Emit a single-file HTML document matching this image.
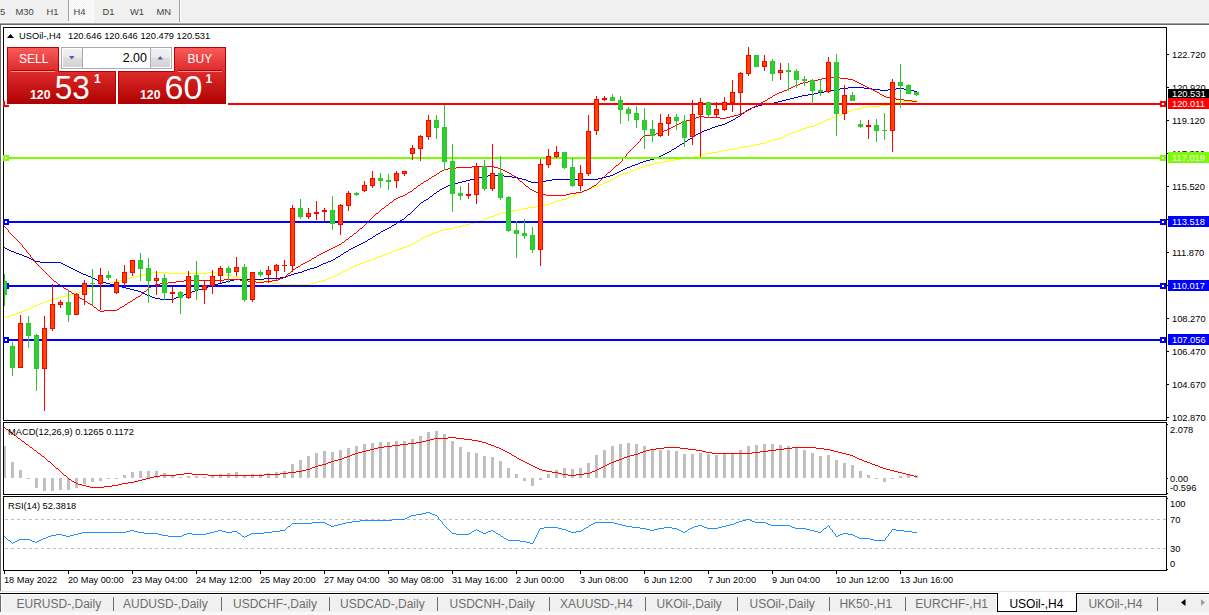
<!DOCTYPE html>
<html><head><meta charset="utf-8"><style>
html,body{margin:0;padding:0;}
body{width:1209px;height:615px;overflow:hidden;background:#f0f0f0;position:relative;}
svg{position:absolute;left:0;top:0;font-family:"Liberation Sans",sans-serif;}
rect{shape-rendering:crispEdges;}
polyline{shape-rendering:crispEdges;}
path{shape-rendering:crispEdges;}
</style></head><body>
<svg width="1209" height="615" viewBox="0 0 1209 615">
<rect x="0" y="0" width="1209" height="22" fill="#f0f0f0"/>
<rect x="0" y="22" width="1209" height="1" fill="#f8f8f8"/>
<rect x="0" y="23" width="1209" height="1" fill="#a0a0a0"/>
<rect x="0" y="24" width="1209" height="1" fill="#696969"/>
<defs><pattern id="dith" width="2" height="2" patternUnits="userSpaceOnUse"><rect width="2" height="2" fill="#f0f0f0"/><rect width="1" height="1" fill="#ffffff"/><rect x="1" y="1" width="1" height="1" fill="#ffffff"/></pattern><clipPath id="cmain"><rect x="4" y="28" width="1162" height="392"/></clipPath><clipPath id="cmacd"><rect x="4" y="423" width="1162" height="70"/></clipPath><clipPath id="crsi"><rect x="4" y="497" width="1162" height="73"/></clipPath></defs>
<rect x="69" y="0" width="24" height="21" fill="url(#dith)"/>
<rect x="68" y="0" width="1" height="21" fill="#a0a0a0"/>
<rect x="93" y="0" width="1" height="22" fill="#ffffff"/>
<rect x="68" y="21" width="26" height="1" fill="#ffffff"/>
<rect x="179" y="0" width="1" height="22" fill="#a0a0a0"/>
<rect x="180" y="0" width="1" height="22" fill="#ffffff"/>
<text x="0" y="15" font-size="9.4" fill="#454545">5</text>
<text x="15.5" y="15" font-size="9.4" fill="#454545">M30</text>
<text x="46.5" y="15" font-size="9.4" fill="#454545">H1</text>
<text x="73.5" y="15" font-size="9.4" fill="#454545">H4</text>
<text x="102.5" y="15" font-size="9.4" fill="#454545">D1</text>
<text x="130" y="15" font-size="9.4" fill="#454545">W1</text>
<text x="156.5" y="15" font-size="9.4" fill="#454545">MN</text>
<rect x="0" y="25" width="1209" height="566" fill="#ffffff"/>
<rect x="0" y="24" width="1" height="567" fill="#696969"/>
<rect x="3" y="27" width="1164" height="1" fill="#000"/>
<rect x="3" y="420" width="1164" height="1" fill="#000"/>
<rect x="3" y="27" width="1" height="394" fill="#000"/>
<rect x="1166" y="27" width="1" height="394" fill="#000"/>
<rect x="3" y="422" width="1164" height="1" fill="#000"/>
<rect x="3" y="494" width="1164" height="1" fill="#000"/>
<rect x="3" y="422" width="1" height="73" fill="#000"/>
<rect x="1166" y="422" width="1" height="73" fill="#000"/>
<rect x="3" y="496" width="1164" height="1" fill="#000"/>
<rect x="3" y="570" width="1164" height="1" fill="#000"/>
<rect x="3" y="496" width="1" height="75" fill="#000"/>
<rect x="1166" y="496" width="1" height="75" fill="#000"/>
<rect x="1167" y="54" width="2" height="1" fill="#000"/>
<rect x="1167" y="87" width="2" height="1" fill="#000"/>
<rect x="1167" y="120" width="2" height="1" fill="#000"/>
<rect x="1167" y="153" width="2" height="1" fill="#000"/>
<rect x="1167" y="186" width="2" height="1" fill="#000"/>
<rect x="1167" y="219" width="2" height="1" fill="#000"/>
<rect x="1167" y="252" width="2" height="1" fill="#000"/>
<rect x="1167" y="285" width="2" height="1" fill="#000"/>
<rect x="1167" y="318" width="2" height="1" fill="#000"/>
<rect x="1167" y="351" width="2" height="1" fill="#000"/>
<rect x="1167" y="384" width="2" height="1" fill="#000"/>
<rect x="1167" y="417" width="2" height="1" fill="#000"/>
<text x="1172" y="58" font-size="9.3" fill="#000">122.720</text>
<text x="1172" y="91" font-size="9.3" fill="#000">120.920</text>
<text x="1172" y="124" font-size="9.3" fill="#000">119.120</text>
<text x="1172" y="157" font-size="9.3" fill="#000">117.320</text>
<text x="1172" y="190" font-size="9.3" fill="#000">115.520</text>
<text x="1172" y="223" font-size="9.3" fill="#000">113.720</text>
<text x="1172" y="256" font-size="9.3" fill="#000">111.870</text>
<text x="1172" y="289" font-size="9.3" fill="#000">110.070</text>
<text x="1172" y="322" font-size="9.3" fill="#000">108.270</text>
<text x="1172" y="355" font-size="9.3" fill="#000">106.470</text>
<text x="1172" y="388" font-size="9.3" fill="#000">104.670</text>
<text x="1172" y="421" font-size="9.3" fill="#000">102.870</text>
<path d="M4 317h1v1h-1zM5 317h1v1h-1zM6 316h1v1h-1zM7 316h1v1h-1zM8 316h1v1h-1zM9 316h1v1h-1zM10 315h1v1h-1zM11 315h1v1h-1zM12 315h1v1h-1zM13 315h1v1h-1zM14 314h1v1h-1zM15 314h1v1h-1zM16 313h1v1h-1zM17 313h1v1h-1zM18 313h1v1h-1zM19 312h1v1h-1zM20 312h1v1h-1zM21 312h1v1h-1zM22 311h1v1h-1zM23 311h1v1h-1zM24 310h1v1h-1zM25 310h1v1h-1zM26 310h1v1h-1zM27 309h1v1h-1zM28 309h1v1h-1zM29 308h1v1h-1zM30 308h1v1h-1zM31 307h1v1h-1zM32 307h1v1h-1zM33 306h1v1h-1zM34 306h1v1h-1zM35 305h1v1h-1zM36 305h1v1h-1zM37 305h1v1h-1zM38 304h1v1h-1zM39 304h1v1h-1zM40 303h1v1h-1zM41 303h1v1h-1zM42 303h1v1h-1zM43 302h1v1h-1zM44 302h1v1h-1zM45 302h1v1h-1zM46 301h1v1h-1zM47 301h1v1h-1zM48 300h1v1h-1zM49 300h1v1h-1zM50 300h1v1h-1zM51 299h1v1h-1zM52 299h1v1h-1zM53 299h1v1h-1zM54 298h1v1h-1zM55 298h1v1h-1zM56 298h1v1h-1zM57 298h1v1h-1zM58 297h1v1h-1zM59 297h1v1h-1zM60 297h1v1h-1zM61 297h1v1h-1zM62 296h1v1h-1zM63 296h1v1h-1zM64 296h1v1h-1zM65 296h1v1h-1zM66 295h1v1h-1zM67 295h1v1h-1zM68 295h1v1h-1zM69 295h1v1h-1zM70 294h1v1h-1zM71 294h1v1h-1zM72 294h1v1h-1zM73 294h1v1h-1zM74 293h1v1h-1zM75 293h1v1h-1zM76 293h1v1h-1zM77 293h1v1h-1zM78 292h1v1h-1zM79 292h1v1h-1zM80 291h1v1h-1zM81 291h1v1h-1zM82 291h1v1h-1zM83 290h1v1h-1zM84 290h1v1h-1zM85 290h1v1h-1zM86 289h1v1h-1zM87 289h1v1h-1zM88 288h1v1h-1zM89 288h1v1h-1zM90 288h1v1h-1zM91 287h1v1h-1zM92 287h1v1h-1zM93 287h1v1h-1zM94 286h1v1h-1zM95 286h1v1h-1zM96 286h1v1h-1zM97 286h1v1h-1zM98 285h1v1h-1zM99 285h1v1h-1zM100 285h1v1h-1zM101 285h1v1h-1zM102 284h1v1h-1zM103 284h1v1h-1zM104 284h1v1h-1zM105 284h1v1h-1zM106 283h1v1h-1zM107 283h1v1h-1zM108 283h1v1h-1zM109 283h1v1h-1zM110 282h1v1h-1zM111 282h1v1h-1zM112 282h1v1h-1zM113 282h1v1h-1zM114 281h1v1h-1zM115 281h1v1h-1zM116 281h1v1h-1zM117 281h1v1h-1zM118 280h1v1h-1zM119 280h1v1h-1zM120 280h1v1h-1zM121 280h1v1h-1zM122 279h1v1h-1zM123 279h1v1h-1zM124 279h1v1h-1zM125 279h1v1h-1zM126 278h1v1h-1zM127 278h1v1h-1zM128 278h1v1h-1zM129 278h1v1h-1zM130 277h1v1h-1zM131 277h1v1h-1zM132 277h1v1h-1zM133 277h1v1h-1zM134 276h1v1h-1zM135 276h1v1h-1zM136 276h1v1h-1zM137 276h1v1h-1zM138 275h1v1h-1zM139 275h1v1h-1zM140 275h1v1h-1zM141 275h1v1h-1zM142 274h1v1h-1zM143 274h1v1h-1zM144 274h1v1h-1zM145 274h1v1h-1zM146 273h1v1h-1zM147 273h1v1h-1zM148 273h1v1h-1zM149 273h1v1h-1zM150 273h1v1h-1zM151 273h1v1h-1zM152 272h1v1h-1zM153 272h1v1h-1zM154 272h1v1h-1zM155 272h1v1h-1zM156 272h1v1h-1zM157 272h1v1h-1zM158 272h1v1h-1zM159 272h1v1h-1zM160 272h1v1h-1zM161 272h1v1h-1zM162 272h1v1h-1zM163 272h1v1h-1zM164 272h1v1h-1zM165 272h1v1h-1zM166 272h1v1h-1zM167 272h1v1h-1zM168 273h1v1h-1zM169 273h1v1h-1zM170 273h1v1h-1zM171 273h1v1h-1zM172 273h1v1h-1zM173 273h1v1h-1zM174 273h1v1h-1zM175 273h1v1h-1zM176 273h1v1h-1zM177 273h1v1h-1zM178 273h1v1h-1zM179 273h1v1h-1zM180 273h1v1h-1zM181 273h1v1h-1zM182 273h1v1h-1zM183 273h1v1h-1zM184 273h1v1h-1zM185 273h1v1h-1zM186 273h1v1h-1zM187 273h1v1h-1zM188 273h1v1h-1zM189 273h1v1h-1zM190 273h1v1h-1zM191 273h1v1h-1zM192 273h1v1h-1zM193 273h1v1h-1zM194 273h1v1h-1zM195 273h1v1h-1zM196 273h1v1h-1zM197 273h1v1h-1zM198 273h1v1h-1zM199 273h1v1h-1zM200 273h1v1h-1zM201 273h1v1h-1zM202 273h1v1h-1zM203 273h1v1h-1zM204 273h1v1h-1zM205 273h1v1h-1zM206 273h1v1h-1zM207 273h1v1h-1zM208 272h1v1h-1zM209 272h1v1h-1zM210 272h1v1h-1zM211 272h1v1h-1zM212 272h1v1h-1zM213 272h1v1h-1zM214 272h1v1h-1zM215 272h1v1h-1zM216 273h1v1h-1zM217 273h1v1h-1zM218 273h1v1h-1zM219 273h1v1h-1zM220 273h1v1h-1zM221 273h1v1h-1zM222 274h1v1h-1zM223 274h1v1h-1zM224 274h1v1h-1zM225 274h1v1h-1zM226 275h1v1h-1zM227 275h1v1h-1zM228 275h1v1h-1zM229 275h1v1h-1zM230 275h1v1h-1zM231 275h1v1h-1zM232 276h1v1h-1zM233 276h1v1h-1zM234 276h1v1h-1zM235 276h1v1h-1zM236 276h1v1h-1zM237 276h1v1h-1zM238 277h1v1h-1zM239 277h1v1h-1zM240 277h1v1h-1zM241 277h1v1h-1zM242 278h1v1h-1zM243 278h1v1h-1zM244 278h1v1h-1zM245 278h1v1h-1zM246 278h1v1h-1zM247 278h1v1h-1zM248 278h1v1h-1zM249 278h1v1h-1zM250 278h1v1h-1zM251 278h1v1h-1zM252 278h1v1h-1zM253 278h1v1h-1zM254 279h1v1h-1zM255 279h1v1h-1zM256 279h1v1h-1zM257 279h1v1h-1zM258 280h1v1h-1zM259 280h1v1h-1zM260 280h1v1h-1zM261 280h1v1h-1zM262 281h1v1h-1zM263 281h1v1h-1zM264 281h1v1h-1zM265 281h1v1h-1zM266 282h1v1h-1zM267 282h1v1h-1zM268 282h1v1h-1zM269 282h1v1h-1zM270 282h1v1h-1zM271 282h1v1h-1zM272 283h1v1h-1zM273 283h1v1h-1zM274 283h1v1h-1zM275 283h1v1h-1zM276 283h1v1h-1zM277 283h1v1h-1zM278 283h1v1h-1zM279 283h1v1h-1zM280 284h1v1h-1zM281 284h1v1h-1zM282 284h1v1h-1zM283 284h1v1h-1zM284 284h1v1h-1zM285 284h1v1h-1zM286 284h1v1h-1zM287 284h1v1h-1zM288 284h1v1h-1zM289 284h1v1h-1zM290 284h1v1h-1zM291 284h1v1h-1zM292 284h1v1h-1zM293 284h1v1h-1zM294 284h1v1h-1zM295 284h1v1h-1zM296 284h1v1h-1zM297 284h1v1h-1zM298 284h1v1h-1zM299 284h1v1h-1zM300 284h1v1h-1zM301 284h1v1h-1zM302 284h1v1h-1zM303 284h1v1h-1zM304 284h1v1h-1zM305 284h1v1h-1zM306 284h1v1h-1zM307 284h1v1h-1zM308 284h1v1h-1zM309 284h1v1h-1zM310 283h1v1h-1zM311 283h1v1h-1zM312 283h1v1h-1zM313 283h1v1h-1zM314 282h1v1h-1zM315 282h1v1h-1zM316 282h1v1h-1zM317 282h1v1h-1zM318 281h1v1h-1zM319 281h1v1h-1zM320 281h1v1h-1zM321 281h1v1h-1zM322 280h1v1h-1zM323 280h1v1h-1zM324 280h1v1h-1zM325 280h1v1h-1zM326 279h1v1h-1zM327 279h1v1h-1zM328 278h1v1h-1zM329 278h1v1h-1zM330 278h1v1h-1zM331 277h1v1h-1zM332 277h1v1h-1zM333 276h1v1h-1zM334 276h1v1h-1zM335 275h1v1h-1zM336 275h1v1h-1zM337 274h1v1h-1zM338 274h1v1h-1zM339 273h1v1h-1zM340 273h1v1h-1zM341 272h1v1h-1zM342 272h1v1h-1zM343 271h1v1h-1zM344 271h1v1h-1zM345 270h1v1h-1zM346 270h1v1h-1zM347 269h1v1h-1zM348 269h1v1h-1zM349 268h1v1h-1zM350 268h1v1h-1zM351 267h1v1h-1zM352 267h1v1h-1zM353 266h1v1h-1zM354 266h1v1h-1zM355 265h1v1h-1zM356 265h1v1h-1zM357 265h1v1h-1zM358 264h1v1h-1zM359 264h1v1h-1zM360 263h1v1h-1zM361 263h1v1h-1zM362 263h1v1h-1zM363 262h1v1h-1zM364 262h1v1h-1zM365 262h1v1h-1zM366 261h1v1h-1zM367 261h1v1h-1zM368 260h1v1h-1zM369 260h1v1h-1zM370 260h1v1h-1zM371 259h1v1h-1zM372 259h1v1h-1zM373 259h1v1h-1zM374 258h1v1h-1zM375 258h1v1h-1zM376 257h1v1h-1zM377 257h1v1h-1zM378 257h1v1h-1zM379 256h1v1h-1zM380 256h1v1h-1zM381 256h1v1h-1zM382 255h1v1h-1zM383 255h1v1h-1zM384 254h1v1h-1zM385 254h1v1h-1zM386 254h1v1h-1zM387 253h1v1h-1zM388 253h1v1h-1zM389 253h1v1h-1zM390 252h1v1h-1zM391 252h1v1h-1zM392 251h1v1h-1zM393 251h1v1h-1zM394 251h1v1h-1zM395 250h1v1h-1zM396 250h1v1h-1zM397 250h1v1h-1zM398 249h1v1h-1zM399 249h1v1h-1zM400 248h1v1h-1zM401 248h1v1h-1zM402 248h1v1h-1zM403 247h1v1h-1zM404 247h1v1h-1zM405 247h1v1h-1zM406 246h1v1h-1zM407 246h1v1h-1zM408 245h1v1h-1zM409 245h1v1h-1zM410 245h1v1h-1zM411 244h1v1h-1zM412 244h1v1h-1zM413 243h1v1h-1zM414 243h1v1h-1zM415 242h1v1h-1zM416 241h1v1h-1zM417 241h1v1h-1zM418 240h1v1h-1zM419 240h1v1h-1zM420 239h1v1h-1zM421 238h1v1h-1zM422 238h1v1h-1zM423 237h1v1h-1zM424 237h1v1h-1zM425 236h1v1h-1zM426 236h1v1h-1zM427 235h1v1h-1zM428 235h1v1h-1zM429 235h1v1h-1zM430 234h1v1h-1zM431 234h1v1h-1zM432 233h1v1h-1zM433 233h1v1h-1zM434 233h1v1h-1zM435 232h1v1h-1zM436 232h1v1h-1zM437 232h1v1h-1zM438 231h1v1h-1zM439 231h1v1h-1zM440 230h1v1h-1zM441 230h1v1h-1zM442 230h1v1h-1zM443 229h1v1h-1zM444 229h1v1h-1zM445 229h1v1h-1zM446 229h1v1h-1zM447 229h1v1h-1zM448 228h1v1h-1zM449 228h1v1h-1zM450 228h1v1h-1zM451 228h1v1h-1zM452 228h1v1h-1zM453 228h1v1h-1zM454 227h1v1h-1zM455 227h1v1h-1zM456 227h1v1h-1zM457 227h1v1h-1zM458 226h1v1h-1zM459 226h1v1h-1zM460 226h1v1h-1zM461 226h1v1h-1zM462 225h1v1h-1zM463 225h1v1h-1zM464 225h1v1h-1zM465 225h1v1h-1zM466 224h1v1h-1zM467 224h1v1h-1zM468 224h1v1h-1zM469 224h1v1h-1zM470 223h1v1h-1zM471 223h1v1h-1zM472 223h1v1h-1zM473 223h1v1h-1zM474 222h1v1h-1zM475 222h1v1h-1zM476 222h1v1h-1zM477 222h1v1h-1zM478 221h1v1h-1zM479 221h1v1h-1zM480 220h1v1h-1zM481 220h1v1h-1zM482 220h1v1h-1zM483 219h1v1h-1zM484 219h1v1h-1zM485 219h1v1h-1zM486 218h1v1h-1zM487 218h1v1h-1zM488 217h1v1h-1zM489 217h1v1h-1zM490 217h1v1h-1zM491 216h1v1h-1zM492 216h1v1h-1zM493 216h1v1h-1zM494 215h1v1h-1zM495 215h1v1h-1zM496 214h1v1h-1zM497 214h1v1h-1zM498 214h1v1h-1zM499 213h1v1h-1zM500 213h1v1h-1zM501 213h1v1h-1zM502 212h1v1h-1zM503 212h1v1h-1zM504 212h1v1h-1zM505 212h1v1h-1zM506 211h1v1h-1zM507 211h1v1h-1zM508 211h1v1h-1zM509 211h1v1h-1zM510 211h1v1h-1zM511 211h1v1h-1zM512 210h1v1h-1zM513 210h1v1h-1zM514 210h1v1h-1zM515 210h1v1h-1zM516 210h1v1h-1zM517 210h1v1h-1zM518 209h1v1h-1zM519 209h1v1h-1zM520 209h1v1h-1zM521 209h1v1h-1zM522 208h1v1h-1zM523 208h1v1h-1zM524 208h1v1h-1zM525 208h1v1h-1zM526 208h1v1h-1zM527 208h1v1h-1zM528 207h1v1h-1zM529 207h1v1h-1zM530 207h1v1h-1zM531 207h1v1h-1zM532 207h1v1h-1zM533 207h1v1h-1zM534 207h1v1h-1zM535 207h1v1h-1zM536 206h1v1h-1zM537 206h1v1h-1zM538 206h1v1h-1zM539 206h1v1h-1zM540 206h1v1h-1zM541 206h1v1h-1zM542 205h1v1h-1zM543 205h1v1h-1zM544 205h1v1h-1zM545 205h1v1h-1zM546 204h1v1h-1zM547 204h1v1h-1zM548 204h1v1h-1zM549 204h1v1h-1zM550 203h1v1h-1zM551 203h1v1h-1zM552 202h1v1h-1zM553 202h1v1h-1zM554 202h1v1h-1zM555 201h1v1h-1zM556 201h1v1h-1zM557 201h1v1h-1zM558 200h1v1h-1zM559 200h1v1h-1zM560 200h1v1h-1zM561 200h1v1h-1zM562 199h1v1h-1zM563 199h1v1h-1zM564 199h1v1h-1zM565 199h1v1h-1zM566 198h1v1h-1zM567 198h1v1h-1zM568 197h1v1h-1zM569 197h1v1h-1zM570 197h1v1h-1zM571 196h1v1h-1zM572 196h1v1h-1zM573 195h1v1h-1zM574 195h1v1h-1zM575 194h1v1h-1zM576 194h1v1h-1zM577 193h1v1h-1zM578 193h1v1h-1zM579 192h1v1h-1zM580 192h1v1h-1zM581 192h1v1h-1zM582 191h1v1h-1zM583 191h1v1h-1zM584 190h1v1h-1zM585 190h1v1h-1zM586 190h1v1h-1zM587 189h1v1h-1zM588 189h1v1h-1zM589 189h1v1h-1zM590 188h1v1h-1zM591 188h1v1h-1zM592 187h1v1h-1zM593 187h1v1h-1zM594 187h1v1h-1zM595 186h1v1h-1zM596 186h1v1h-1zM597 186h1v1h-1zM598 185h1v1h-1zM599 185h1v1h-1zM600 184h1v1h-1zM601 184h1v1h-1zM602 184h1v1h-1zM603 183h1v1h-1zM604 183h1v1h-1zM605 182h1v1h-1zM606 182h1v1h-1zM607 181h1v1h-1zM608 181h1v1h-1zM609 180h1v1h-1zM610 180h1v1h-1zM611 179h1v1h-1zM612 179h1v1h-1zM613 178h1v1h-1zM614 178h1v1h-1zM615 177h1v1h-1zM616 176h1v1h-1zM617 176h1v1h-1zM618 175h1v1h-1zM619 175h1v1h-1zM620 174h1v1h-1zM621 174h1v1h-1zM622 173h1v1h-1zM623 173h1v1h-1zM624 173h1v1h-1zM625 173h1v1h-1zM626 172h1v1h-1zM627 172h1v1h-1zM628 172h1v1h-1zM629 172h1v1h-1zM630 171h1v1h-1zM631 171h1v1h-1zM632 170h1v1h-1zM633 170h1v1h-1zM634 170h1v1h-1zM635 169h1v1h-1zM636 169h1v1h-1zM637 169h1v1h-1zM638 168h1v1h-1zM639 168h1v1h-1zM640 167h1v1h-1zM641 167h1v1h-1zM642 167h1v1h-1zM643 166h1v1h-1zM644 166h1v1h-1zM645 166h1v1h-1zM646 165h1v1h-1zM647 165h1v1h-1zM648 165h1v1h-1zM649 165h1v1h-1zM650 164h1v1h-1zM651 164h1v1h-1zM652 164h1v1h-1zM653 164h1v1h-1zM654 163h1v1h-1zM655 163h1v1h-1zM656 163h1v1h-1zM657 163h1v1h-1zM658 162h1v1h-1zM659 162h1v1h-1zM660 162h1v1h-1zM661 162h1v1h-1zM662 162h1v1h-1zM663 162h1v1h-1zM664 161h1v1h-1zM665 161h1v1h-1zM666 161h1v1h-1zM667 161h1v1h-1zM668 161h1v1h-1zM669 161h1v1h-1zM670 160h1v1h-1zM671 160h1v1h-1zM672 160h1v1h-1zM673 160h1v1h-1zM674 159h1v1h-1zM675 159h1v1h-1zM676 159h1v1h-1zM677 159h1v1h-1zM678 159h1v1h-1zM679 159h1v1h-1zM680 158h1v1h-1zM681 158h1v1h-1zM682 158h1v1h-1zM683 158h1v1h-1zM684 158h1v1h-1zM685 158h1v1h-1zM686 158h1v1h-1zM687 158h1v1h-1zM688 157h1v1h-1zM689 157h1v1h-1zM690 157h1v1h-1zM691 157h1v1h-1zM692 157h1v1h-1zM693 157h1v1h-1zM694 156h1v1h-1zM695 156h1v1h-1zM696 156h1v1h-1zM697 156h1v1h-1zM698 155h1v1h-1zM699 155h1v1h-1zM700 155h1v1h-1zM701 155h1v1h-1zM702 154h1v1h-1zM703 154h1v1h-1zM704 154h1v1h-1zM705 154h1v1h-1zM706 153h1v1h-1zM707 153h1v1h-1zM708 153h1v1h-1zM709 153h1v1h-1zM710 153h1v1h-1zM711 153h1v1h-1zM712 152h1v1h-1zM713 152h1v1h-1zM714 152h1v1h-1zM715 152h1v1h-1zM716 152h1v1h-1zM717 152h1v1h-1zM718 151h1v1h-1zM719 151h1v1h-1zM720 151h1v1h-1zM721 151h1v1h-1zM722 150h1v1h-1zM723 150h1v1h-1zM724 150h1v1h-1zM725 150h1v1h-1zM726 150h1v1h-1zM727 150h1v1h-1zM728 149h1v1h-1zM729 149h1v1h-1zM730 149h1v1h-1zM731 149h1v1h-1zM732 149h1v1h-1zM733 149h1v1h-1zM734 148h1v1h-1zM735 148h1v1h-1zM736 148h1v1h-1zM737 148h1v1h-1zM738 147h1v1h-1zM739 147h1v1h-1zM740 147h1v1h-1zM741 147h1v1h-1zM742 147h1v1h-1zM743 147h1v1h-1zM744 146h1v1h-1zM745 146h1v1h-1zM746 146h1v1h-1zM747 146h1v1h-1zM748 146h1v1h-1zM749 146h1v1h-1zM750 145h1v1h-1zM751 145h1v1h-1zM752 145h1v1h-1zM753 145h1v1h-1zM754 144h1v1h-1zM755 144h1v1h-1zM756 144h1v1h-1zM757 144h1v1h-1zM758 144h1v1h-1zM759 144h1v1h-1zM760 143h1v1h-1zM761 143h1v1h-1zM762 143h1v1h-1zM763 143h1v1h-1zM764 143h1v1h-1zM765 143h1v1h-1zM766 142h1v1h-1zM767 142h1v1h-1zM768 141h1v1h-1zM769 141h1v1h-1zM770 141h1v1h-1zM771 140h1v1h-1zM772 140h1v1h-1zM773 140h1v1h-1zM774 139h1v1h-1zM775 139h1v1h-1zM776 139h1v1h-1zM777 139h1v1h-1zM778 138h1v1h-1zM779 138h1v1h-1zM780 138h1v1h-1zM781 137h1v1h-1zM782 137h1v1h-1zM783 136h1v1h-1zM784 136h1v1h-1zM785 135h1v1h-1zM786 135h1v1h-1zM787 134h1v1h-1zM788 134h1v1h-1zM789 134h1v1h-1zM790 133h1v1h-1zM791 133h1v1h-1zM792 132h1v1h-1zM793 132h1v1h-1zM794 132h1v1h-1zM795 131h1v1h-1zM796 131h1v1h-1zM797 131h1v1h-1zM798 130h1v1h-1zM799 130h1v1h-1zM800 129h1v1h-1zM801 129h1v1h-1zM802 129h1v1h-1zM803 128h1v1h-1zM804 128h1v1h-1zM805 128h1v1h-1zM806 127h1v1h-1zM807 127h1v1h-1zM808 127h1v1h-1zM809 127h1v1h-1zM810 126h1v1h-1zM811 126h1v1h-1zM812 126h1v1h-1zM813 126h1v1h-1zM814 125h1v1h-1zM815 125h1v1h-1zM816 124h1v1h-1zM817 124h1v1h-1zM818 124h1v1h-1zM819 123h1v1h-1zM820 123h1v1h-1zM821 122h1v1h-1zM822 122h1v1h-1zM823 121h1v1h-1zM824 121h1v1h-1zM825 120h1v1h-1zM826 120h1v1h-1zM827 119h1v1h-1zM828 119h1v1h-1zM829 119h1v1h-1zM830 118h1v1h-1zM831 118h1v1h-1zM832 117h1v1h-1zM833 117h1v1h-1zM834 117h1v1h-1zM835 116h1v1h-1zM836 116h1v1h-1zM837 116h1v1h-1zM838 115h1v1h-1zM839 115h1v1h-1zM840 114h1v1h-1zM841 114h1v1h-1zM842 114h1v1h-1zM843 113h1v1h-1zM844 113h1v1h-1zM845 113h1v1h-1zM846 112h1v1h-1zM847 112h1v1h-1zM848 111h1v1h-1zM849 111h1v1h-1zM850 111h1v1h-1zM851 110h1v1h-1zM852 110h1v1h-1zM853 110h1v1h-1zM854 109h1v1h-1zM855 109h1v1h-1zM856 109h1v1h-1zM857 109h1v1h-1zM858 108h1v1h-1zM859 108h1v1h-1zM860 108h1v1h-1zM861 108h1v1h-1zM862 107h1v1h-1zM863 107h1v1h-1zM864 107h1v1h-1zM865 107h1v1h-1zM866 106h1v1h-1zM867 106h1v1h-1zM868 106h1v1h-1zM869 106h1v1h-1zM870 106h1v1h-1zM871 106h1v1h-1zM872 106h1v1h-1zM873 106h1v1h-1zM874 106h1v1h-1zM875 106h1v1h-1zM876 106h1v1h-1zM877 106h1v1h-1zM878 106h1v1h-1zM879 106h1v1h-1zM880 105h1v1h-1zM881 105h1v1h-1zM882 105h1v1h-1zM883 105h1v1h-1zM884 105h1v1h-1zM885 105h1v1h-1zM886 105h1v1h-1zM887 105h1v1h-1zM888 104h1v1h-1zM889 104h1v1h-1zM890 104h1v1h-1zM891 104h1v1h-1zM892 104h1v1h-1zM893 104h1v1h-1zM894 103h1v1h-1zM895 103h1v1h-1zM896 102h1v1h-1zM897 102h1v1h-1zM898 102h1v1h-1zM899 101h1v1h-1zM900 101h1v1h-1zM901 101h1v1h-1zM902 101h1v1h-1zM903 101h1v1h-1zM904 101h1v1h-1zM905 101h1v1h-1zM906 101h1v1h-1zM907 101h1v1h-1zM908 101h1v1h-1zM909 101h1v1h-1zM910 101h1v1h-1zM911 101h1v1h-1zM912 100h1v1h-1zM913 100h1v1h-1zM914 100h1v1h-1zM915 100h1v1h-1zM916 100h1v1h-1z" fill="#ffff00"/>
<path d="M4 247h1v1h-1zM5 248h1v1h-1zM6 248h1v1h-1zM7 249h1v1h-1zM8 249h1v1h-1zM9 250h1v1h-1zM10 250h1v1h-1zM11 251h1v1h-1zM12 251h1v1h-1zM13 251h1v1h-1zM14 252h1v1h-1zM15 252h1v1h-1zM16 253h1v1h-1zM17 253h1v1h-1zM18 253h1v1h-1zM19 254h1v1h-1zM20 254h1v1h-1zM21 254h1v1h-1zM22 255h1v1h-1zM23 255h1v1h-1zM24 256h1v1h-1zM25 256h1v1h-1zM26 256h1v1h-1zM27 257h1v1h-1zM28 257h1v1h-1zM29 258h1v1h-1zM30 258h1v1h-1zM31 259h1v1h-1zM32 259h1v1h-1zM33 260h1v1h-1zM34 260h1v1h-1zM35 261h1v1h-1zM36 261h1v1h-1zM37 261h1v1h-1zM38 261h1v1h-1zM39 261h1v1h-1zM40 262h1v1h-1zM41 262h1v1h-1zM42 262h1v1h-1zM43 262h1v1h-1zM44 262h1v1h-1zM45 262h1v1h-1zM46 262h1v1h-1zM47 262h1v1h-1zM48 262h1v1h-1zM49 262h1v1h-1zM50 262h1v1h-1zM51 262h1v1h-1zM52 262h1v1h-1zM53 262h1v1h-1zM54 262h1v1h-1zM55 262h1v1h-1zM56 262h1v1h-1zM57 262h1v1h-1zM58 262h1v1h-1zM59 262h1v1h-1zM60 262h1v1h-1zM61 263h1v1h-1zM62 263h1v1h-1zM63 264h1v1h-1zM64 264h1v1h-1zM65 265h1v1h-1zM66 265h1v1h-1zM67 266h1v1h-1zM68 266h1v1h-1zM69 267h1v1h-1zM70 267h1v1h-1zM71 268h1v1h-1zM72 268h1v1h-1zM73 269h1v1h-1zM74 269h1v1h-1zM75 270h1v1h-1zM76 270h1v1h-1zM77 271h1v1h-1zM78 271h1v1h-1zM79 272h1v1h-1zM80 272h1v1h-1zM81 273h1v1h-1zM82 273h1v1h-1zM83 274h1v1h-1zM84 274h1v1h-1zM85 274h1v1h-1zM86 275h1v1h-1zM87 275h1v1h-1zM88 276h1v1h-1zM89 276h1v1h-1zM90 276h1v1h-1zM91 277h1v1h-1zM92 277h1v1h-1zM93 278h1v1h-1zM94 278h1v1h-1zM95 279h1v1h-1zM96 279h1v1h-1zM97 280h1v1h-1zM98 280h1v1h-1zM99 281h1v1h-1zM100 281h1v1h-1zM101 281h1v1h-1zM102 282h1v1h-1zM103 282h1v1h-1zM104 282h1v1h-1zM105 282h1v1h-1zM106 283h1v1h-1zM107 283h1v1h-1zM108 283h1v1h-1zM109 283h1v1h-1zM110 284h1v1h-1zM111 284h1v1h-1zM112 284h1v1h-1zM113 284h1v1h-1zM114 285h1v1h-1zM115 285h1v1h-1zM116 285h1v1h-1zM117 285h1v1h-1zM118 286h1v1h-1zM119 286h1v1h-1zM120 286h1v1h-1zM121 286h1v1h-1zM122 287h1v1h-1zM123 287h1v1h-1zM124 287h1v1h-1zM125 287h1v1h-1zM126 288h1v1h-1zM127 288h1v1h-1zM128 288h1v1h-1zM129 288h1v1h-1zM130 289h1v1h-1zM131 289h1v1h-1zM132 289h1v1h-1zM133 289h1v1h-1zM134 290h1v1h-1zM135 290h1v1h-1zM136 290h1v1h-1zM137 290h1v1h-1zM138 291h1v1h-1zM139 291h1v1h-1zM140 291h1v1h-1zM141 292h1v1h-1zM142 292h1v1h-1zM143 293h1v1h-1zM144 293h1v1h-1zM145 294h1v1h-1zM146 294h1v1h-1zM147 295h1v1h-1zM148 295h1v1h-1zM149 295h1v1h-1zM150 296h1v1h-1zM151 296h1v1h-1zM152 297h1v1h-1zM153 297h1v1h-1zM154 297h1v1h-1zM155 298h1v1h-1zM156 298h1v1h-1zM157 298h1v1h-1zM158 298h1v1h-1zM159 298h1v1h-1zM160 299h1v1h-1zM161 299h1v1h-1zM162 299h1v1h-1zM163 299h1v1h-1zM164 299h1v1h-1zM165 299h1v1h-1zM166 299h1v1h-1zM167 299h1v1h-1zM168 299h1v1h-1zM169 299h1v1h-1zM170 299h1v1h-1zM171 299h1v1h-1zM172 299h1v1h-1zM173 299h1v1h-1zM174 298h1v1h-1zM175 298h1v1h-1zM176 297h1v1h-1zM177 297h1v1h-1zM178 297h1v1h-1zM179 296h1v1h-1zM180 296h1v1h-1zM181 296h1v1h-1zM182 295h1v1h-1zM183 295h1v1h-1zM184 294h1v1h-1zM185 294h1v1h-1zM186 294h1v1h-1zM187 293h1v1h-1zM188 293h1v1h-1zM189 293h1v1h-1zM190 292h1v1h-1zM191 292h1v1h-1zM192 291h1v1h-1zM193 291h1v1h-1zM194 291h1v1h-1zM195 290h1v1h-1zM196 290h1v1h-1zM197 290h1v1h-1zM198 289h1v1h-1zM199 289h1v1h-1zM200 289h1v1h-1zM201 289h1v1h-1zM202 288h1v1h-1zM203 288h1v1h-1zM204 288h1v1h-1zM205 288h1v1h-1zM206 287h1v1h-1zM207 287h1v1h-1zM208 286h1v1h-1zM209 286h1v1h-1zM210 286h1v1h-1zM211 285h1v1h-1zM212 285h1v1h-1zM213 285h1v1h-1zM214 284h1v1h-1zM215 284h1v1h-1zM216 284h1v1h-1zM217 284h1v1h-1zM218 283h1v1h-1zM219 283h1v1h-1zM220 283h1v1h-1zM221 283h1v1h-1zM222 282h1v1h-1zM223 282h1v1h-1zM224 282h1v1h-1zM225 282h1v1h-1zM226 281h1v1h-1zM227 281h1v1h-1zM228 281h1v1h-1zM229 281h1v1h-1zM230 280h1v1h-1zM231 280h1v1h-1zM232 280h1v1h-1zM233 280h1v1h-1zM234 279h1v1h-1zM235 279h1v1h-1zM236 279h1v1h-1zM237 279h1v1h-1zM238 279h1v1h-1zM239 279h1v1h-1zM240 279h1v1h-1zM241 279h1v1h-1zM242 279h1v1h-1zM243 279h1v1h-1zM244 279h1v1h-1zM245 279h1v1h-1zM246 279h1v1h-1zM247 279h1v1h-1zM248 279h1v1h-1zM249 279h1v1h-1zM250 279h1v1h-1zM251 279h1v1h-1zM252 279h1v1h-1zM253 279h1v1h-1zM254 279h1v1h-1zM255 279h1v1h-1zM256 279h1v1h-1zM257 279h1v1h-1zM258 279h1v1h-1zM259 279h1v1h-1zM260 279h1v1h-1zM261 279h1v1h-1zM262 279h1v1h-1zM263 279h1v1h-1zM264 278h1v1h-1zM265 278h1v1h-1zM266 278h1v1h-1zM267 278h1v1h-1zM268 278h1v1h-1zM269 278h1v1h-1zM270 278h1v1h-1zM271 278h1v1h-1zM272 278h1v1h-1zM273 278h1v1h-1zM274 278h1v1h-1zM275 278h1v1h-1zM276 278h1v1h-1zM277 278h1v1h-1zM278 278h1v1h-1zM279 278h1v1h-1zM280 277h1v1h-1zM281 277h1v1h-1zM282 277h1v1h-1zM283 277h1v1h-1zM284 277h1v1h-1zM285 277h1v1h-1zM286 276h1v1h-1zM287 276h1v1h-1zM288 275h1v1h-1zM289 275h1v1h-1zM290 275h1v1h-1zM291 274h1v1h-1zM292 274h1v1h-1zM293 274h1v1h-1zM294 273h1v1h-1zM295 273h1v1h-1zM296 273h1v1h-1zM297 273h1v1h-1zM298 272h1v1h-1zM299 272h1v1h-1zM300 272h1v1h-1zM301 272h1v1h-1zM302 271h1v1h-1zM303 271h1v1h-1zM304 270h1v1h-1zM305 270h1v1h-1zM306 270h1v1h-1zM307 269h1v1h-1zM308 269h1v1h-1zM309 269h1v1h-1zM310 268h1v1h-1zM311 268h1v1h-1zM312 268h1v1h-1zM313 268h1v1h-1zM314 267h1v1h-1zM315 267h1v1h-1zM316 267h1v1h-1zM317 266h1v1h-1zM318 266h1v1h-1zM319 265h1v1h-1zM320 265h1v1h-1zM321 264h1v1h-1zM322 264h1v1h-1zM323 263h1v1h-1zM324 263h1v1h-1zM325 263h1v1h-1zM326 262h1v1h-1zM327 262h1v1h-1zM328 261h1v1h-1zM329 261h1v1h-1zM330 261h1v1h-1zM331 260h1v1h-1zM332 260h1v1h-1zM333 259h1v1h-1zM334 259h1v1h-1zM335 258h1v1h-1zM336 257h1v1h-1zM337 257h1v1h-1zM338 256h1v1h-1zM339 256h1v1h-1zM340 255h1v1h-1zM341 254h1v1h-1zM342 254h1v1h-1zM343 253h1v1h-1zM344 252h1v1h-1zM345 252h1v1h-1zM346 251h1v1h-1zM347 251h1v1h-1zM348 250h1v1h-1zM349 249h1v1h-1zM350 249h1v1h-1zM351 248h1v1h-1zM352 248h1v1h-1zM353 247h1v1h-1zM354 247h1v1h-1zM355 246h1v1h-1zM356 246h1v1h-1zM357 245h1v1h-1zM358 245h1v1h-1zM359 244h1v1h-1zM360 244h1v1h-1zM361 243h1v1h-1zM362 243h1v1h-1zM363 242h1v1h-1zM364 242h1v1h-1zM365 241h1v1h-1zM366 241h1v1h-1zM367 240h1v1h-1zM368 239h1v1h-1zM369 239h1v1h-1zM370 238h1v1h-1zM371 238h1v1h-1zM372 237h1v1h-1zM373 236h1v1h-1zM374 236h1v1h-1zM375 235h1v1h-1zM376 234h1v1h-1zM377 234h1v1h-1zM378 233h1v1h-1zM379 233h1v1h-1zM380 232h1v1h-1zM381 231h1v1h-1zM382 231h1v1h-1zM383 230h1v1h-1zM384 230h1v1h-1zM385 229h1v1h-1zM386 229h1v1h-1zM387 228h1v1h-1zM388 228h1v1h-1zM389 227h1v1h-1zM390 227h1v1h-1zM391 226h1v1h-1zM392 225h1v1h-1zM393 225h1v1h-1zM394 224h1v1h-1zM395 224h1v1h-1zM396 223h1v1h-1zM397 222h1v1h-1zM398 222h1v1h-1zM399 221h1v1h-1zM400 220h1v1h-1zM401 220h1v1h-1zM402 219h1v1h-1zM403 219h1v1h-1zM404 218h1v1h-1zM405 217h1v1h-1zM406 216h1v1h-1zM407 215h1v1h-1zM408 214h1v1h-1zM409 214h1v1h-1zM410 213h1v1h-1zM411 212h1v1h-1zM412 211h1v1h-1zM413 210h1v1h-1zM414 209h1v1h-1zM415 208h1v1h-1zM416 207h1v1h-1zM417 206h1v1h-1zM418 205h1v1h-1zM419 204h1v1h-1zM420 203h1v1h-1zM421 202h1v1h-1zM422 202h1v1h-1zM423 201h1v1h-1zM424 200h1v1h-1zM425 200h1v1h-1zM426 199h1v1h-1zM427 199h1v1h-1zM428 198h1v1h-1zM429 197h1v1h-1zM430 196h1v1h-1zM431 196h1v1h-1zM432 195h1v1h-1zM433 194h1v1h-1zM434 193h1v1h-1zM435 193h1v1h-1zM436 192h1v1h-1zM437 191h1v1h-1zM438 191h1v1h-1zM439 190h1v1h-1zM440 189h1v1h-1zM441 189h1v1h-1zM442 188h1v1h-1zM443 188h1v1h-1zM444 187h1v1h-1zM445 187h1v1h-1zM446 186h1v1h-1zM447 186h1v1h-1zM448 185h1v1h-1zM449 185h1v1h-1zM450 185h1v1h-1zM451 184h1v1h-1zM452 184h1v1h-1zM453 184h1v1h-1zM454 183h1v1h-1zM455 183h1v1h-1zM456 183h1v1h-1zM457 183h1v1h-1zM458 182h1v1h-1zM459 182h1v1h-1zM460 182h1v1h-1zM461 182h1v1h-1zM462 181h1v1h-1zM463 181h1v1h-1zM464 181h1v1h-1zM465 181h1v1h-1zM466 180h1v1h-1zM467 180h1v1h-1zM468 180h1v1h-1zM469 180h1v1h-1zM470 179h1v1h-1zM471 179h1v1h-1zM472 179h1v1h-1zM473 179h1v1h-1zM474 178h1v1h-1zM475 178h1v1h-1zM476 178h1v1h-1zM477 178h1v1h-1zM478 177h1v1h-1zM479 177h1v1h-1zM480 177h1v1h-1zM481 177h1v1h-1zM482 176h1v1h-1zM483 176h1v1h-1zM484 176h1v1h-1zM485 176h1v1h-1zM486 176h1v1h-1zM487 176h1v1h-1zM488 175h1v1h-1zM489 175h1v1h-1zM490 175h1v1h-1zM491 175h1v1h-1zM492 175h1v1h-1zM493 175h1v1h-1zM494 175h1v1h-1zM495 175h1v1h-1zM496 175h1v1h-1zM497 175h1v1h-1zM498 175h1v1h-1zM499 175h1v1h-1zM500 175h1v1h-1zM501 175h1v1h-1zM502 175h1v1h-1zM503 175h1v1h-1zM504 176h1v1h-1zM505 176h1v1h-1zM506 176h1v1h-1zM507 176h1v1h-1zM508 176h1v1h-1zM509 176h1v1h-1zM510 176h1v1h-1zM511 176h1v1h-1zM512 177h1v1h-1zM513 177h1v1h-1zM514 177h1v1h-1zM515 177h1v1h-1zM516 177h1v1h-1zM517 177h1v1h-1zM518 178h1v1h-1zM519 178h1v1h-1zM520 178h1v1h-1zM521 178h1v1h-1zM522 179h1v1h-1zM523 179h1v1h-1zM524 179h1v1h-1zM525 179h1v1h-1zM526 180h1v1h-1zM527 180h1v1h-1zM528 181h1v1h-1zM529 181h1v1h-1zM530 181h1v1h-1zM531 182h1v1h-1zM532 182h1v1h-1zM533 182h1v1h-1zM534 182h1v1h-1zM535 182h1v1h-1zM536 182h1v1h-1zM537 182h1v1h-1zM538 182h1v1h-1zM539 182h1v1h-1zM540 182h1v1h-1zM541 182h1v1h-1zM542 181h1v1h-1zM543 181h1v1h-1zM544 181h1v1h-1zM545 181h1v1h-1zM546 180h1v1h-1zM547 180h1v1h-1zM548 180h1v1h-1zM549 180h1v1h-1zM550 180h1v1h-1zM551 180h1v1h-1zM552 179h1v1h-1zM553 179h1v1h-1zM554 179h1v1h-1zM555 179h1v1h-1zM556 179h1v1h-1zM557 179h1v1h-1zM558 179h1v1h-1zM559 179h1v1h-1zM560 179h1v1h-1zM561 179h1v1h-1zM562 179h1v1h-1zM563 179h1v1h-1zM564 179h1v1h-1zM565 179h1v1h-1zM566 179h1v1h-1zM567 179h1v1h-1zM568 179h1v1h-1zM569 179h1v1h-1zM570 179h1v1h-1zM571 179h1v1h-1zM572 179h1v1h-1zM573 179h1v1h-1zM574 179h1v1h-1zM575 179h1v1h-1zM576 179h1v1h-1zM577 179h1v1h-1zM578 179h1v1h-1zM579 179h1v1h-1zM580 179h1v1h-1zM581 179h1v1h-1zM582 179h1v1h-1zM583 179h1v1h-1zM584 179h1v1h-1zM585 179h1v1h-1zM586 179h1v1h-1zM587 179h1v1h-1zM588 179h1v1h-1zM589 179h1v1h-1zM590 179h1v1h-1zM591 179h1v1h-1zM592 179h1v1h-1zM593 179h1v1h-1zM594 179h1v1h-1zM595 179h1v1h-1zM596 179h1v1h-1zM597 179h1v1h-1zM598 178h1v1h-1zM599 178h1v1h-1zM600 178h1v1h-1zM601 178h1v1h-1zM602 177h1v1h-1zM603 177h1v1h-1zM604 177h1v1h-1zM605 177h1v1h-1zM606 176h1v1h-1zM607 176h1v1h-1zM608 176h1v1h-1zM609 176h1v1h-1zM610 175h1v1h-1zM611 175h1v1h-1zM612 175h1v1h-1zM613 174h1v1h-1zM614 174h1v1h-1zM615 173h1v1h-1zM616 173h1v1h-1zM617 172h1v1h-1zM618 172h1v1h-1zM619 171h1v1h-1zM620 171h1v1h-1zM621 170h1v1h-1zM622 170h1v1h-1zM623 169h1v1h-1zM624 169h1v1h-1zM625 168h1v1h-1zM626 168h1v1h-1zM627 167h1v1h-1zM628 167h1v1h-1zM629 167h1v1h-1zM630 166h1v1h-1zM631 166h1v1h-1zM632 165h1v1h-1zM633 165h1v1h-1zM634 165h1v1h-1zM635 164h1v1h-1zM636 164h1v1h-1zM637 164h1v1h-1zM638 163h1v1h-1zM639 163h1v1h-1zM640 162h1v1h-1zM641 162h1v1h-1zM642 162h1v1h-1zM643 161h1v1h-1zM644 161h1v1h-1zM645 161h1v1h-1zM646 160h1v1h-1zM647 160h1v1h-1zM648 160h1v1h-1zM649 160h1v1h-1zM650 159h1v1h-1zM651 159h1v1h-1zM652 159h1v1h-1zM653 159h1v1h-1zM654 158h1v1h-1zM655 158h1v1h-1zM656 157h1v1h-1zM657 157h1v1h-1zM658 157h1v1h-1zM659 156h1v1h-1zM660 156h1v1h-1zM661 155h1v1h-1zM662 155h1v1h-1zM663 154h1v1h-1zM664 154h1v1h-1zM665 153h1v1h-1zM666 153h1v1h-1zM667 152h1v1h-1zM668 152h1v1h-1zM669 151h1v1h-1zM670 151h1v1h-1zM671 150h1v1h-1zM672 149h1v1h-1zM673 149h1v1h-1zM674 148h1v1h-1zM675 148h1v1h-1zM676 147h1v1h-1zM677 146h1v1h-1zM678 146h1v1h-1zM679 145h1v1h-1zM680 144h1v1h-1zM681 144h1v1h-1zM682 143h1v1h-1zM683 143h1v1h-1zM684 142h1v1h-1zM685 141h1v1h-1zM686 141h1v1h-1zM687 140h1v1h-1zM688 139h1v1h-1zM689 139h1v1h-1zM690 138h1v1h-1zM691 138h1v1h-1zM692 137h1v1h-1zM693 136h1v1h-1zM694 136h1v1h-1zM695 135h1v1h-1zM696 134h1v1h-1zM697 134h1v1h-1zM698 133h1v1h-1zM699 133h1v1h-1zM700 132h1v1h-1zM701 132h1v1h-1zM702 131h1v1h-1zM703 131h1v1h-1zM704 130h1v1h-1zM705 130h1v1h-1zM706 130h1v1h-1zM707 129h1v1h-1zM708 129h1v1h-1zM709 129h1v1h-1zM710 128h1v1h-1zM711 128h1v1h-1zM712 127h1v1h-1zM713 127h1v1h-1zM714 127h1v1h-1zM715 126h1v1h-1zM716 126h1v1h-1zM717 126h1v1h-1zM718 125h1v1h-1zM719 125h1v1h-1zM720 125h1v1h-1zM721 125h1v1h-1zM722 124h1v1h-1zM723 124h1v1h-1zM724 124h1v1h-1zM725 123h1v1h-1zM726 123h1v1h-1zM727 122h1v1h-1zM728 122h1v1h-1zM729 121h1v1h-1zM730 121h1v1h-1zM731 120h1v1h-1zM732 120h1v1h-1zM733 119h1v1h-1zM734 119h1v1h-1zM735 118h1v1h-1zM736 117h1v1h-1zM737 117h1v1h-1zM738 116h1v1h-1zM739 116h1v1h-1zM740 115h1v1h-1zM741 114h1v1h-1zM742 113h1v1h-1zM743 113h1v1h-1zM744 112h1v1h-1zM745 111h1v1h-1zM746 110h1v1h-1zM747 110h1v1h-1zM748 109h1v1h-1zM749 109h1v1h-1zM750 108h1v1h-1zM751 108h1v1h-1zM752 107h1v1h-1zM753 107h1v1h-1zM754 107h1v1h-1zM755 106h1v1h-1zM756 106h1v1h-1zM757 106h1v1h-1zM758 105h1v1h-1zM759 105h1v1h-1zM760 105h1v1h-1zM761 105h1v1h-1zM762 104h1v1h-1zM763 104h1v1h-1zM764 104h1v1h-1zM765 104h1v1h-1zM766 104h1v1h-1zM767 104h1v1h-1zM768 103h1v1h-1zM769 103h1v1h-1zM770 103h1v1h-1zM771 103h1v1h-1zM772 103h1v1h-1zM773 103h1v1h-1zM774 102h1v1h-1zM775 102h1v1h-1zM776 102h1v1h-1zM777 102h1v1h-1zM778 101h1v1h-1zM779 101h1v1h-1zM780 101h1v1h-1zM781 101h1v1h-1zM782 100h1v1h-1zM783 100h1v1h-1zM784 100h1v1h-1zM785 100h1v1h-1zM786 99h1v1h-1zM787 99h1v1h-1zM788 99h1v1h-1zM789 99h1v1h-1zM790 98h1v1h-1zM791 98h1v1h-1zM792 98h1v1h-1zM793 98h1v1h-1zM794 97h1v1h-1zM795 97h1v1h-1zM796 97h1v1h-1zM797 97h1v1h-1zM798 96h1v1h-1zM799 96h1v1h-1zM800 96h1v1h-1zM801 96h1v1h-1zM802 95h1v1h-1zM803 95h1v1h-1zM804 95h1v1h-1zM805 95h1v1h-1zM806 95h1v1h-1zM807 95h1v1h-1zM808 94h1v1h-1zM809 94h1v1h-1zM810 94h1v1h-1zM811 94h1v1h-1zM812 94h1v1h-1zM813 94h1v1h-1zM814 93h1v1h-1zM815 93h1v1h-1zM816 93h1v1h-1zM817 93h1v1h-1zM818 92h1v1h-1zM819 92h1v1h-1zM820 92h1v1h-1zM821 92h1v1h-1zM822 92h1v1h-1zM823 92h1v1h-1zM824 91h1v1h-1zM825 91h1v1h-1zM826 91h1v1h-1zM827 91h1v1h-1zM828 91h1v1h-1zM829 91h1v1h-1zM830 90h1v1h-1zM831 90h1v1h-1zM832 90h1v1h-1zM833 90h1v1h-1zM834 89h1v1h-1zM835 89h1v1h-1zM836 89h1v1h-1zM837 89h1v1h-1zM838 89h1v1h-1zM839 89h1v1h-1zM840 88h1v1h-1zM841 88h1v1h-1zM842 88h1v1h-1zM843 88h1v1h-1zM844 88h1v1h-1zM845 88h1v1h-1zM846 88h1v1h-1zM847 88h1v1h-1zM848 87h1v1h-1zM849 87h1v1h-1zM850 87h1v1h-1zM851 87h1v1h-1zM852 87h1v1h-1zM853 87h1v1h-1zM854 87h1v1h-1zM855 87h1v1h-1zM856 87h1v1h-1zM857 87h1v1h-1zM858 87h1v1h-1zM859 87h1v1h-1zM860 87h1v1h-1zM861 87h1v1h-1zM862 87h1v1h-1zM863 87h1v1h-1zM864 88h1v1h-1zM865 88h1v1h-1zM866 88h1v1h-1zM867 88h1v1h-1zM868 88h1v1h-1zM869 88h1v1h-1zM870 88h1v1h-1zM871 88h1v1h-1zM872 89h1v1h-1zM873 89h1v1h-1zM874 89h1v1h-1zM875 89h1v1h-1zM876 89h1v1h-1zM877 89h1v1h-1zM878 89h1v1h-1zM879 89h1v1h-1zM880 90h1v1h-1zM881 90h1v1h-1zM882 90h1v1h-1zM883 90h1v1h-1zM884 90h1v1h-1zM885 90h1v1h-1zM886 90h1v1h-1zM887 90h1v1h-1zM888 89h1v1h-1zM889 89h1v1h-1zM890 89h1v1h-1zM891 89h1v1h-1zM892 89h1v1h-1zM893 89h1v1h-1zM894 89h1v1h-1zM895 89h1v1h-1zM896 88h1v1h-1zM897 88h1v1h-1zM898 88h1v1h-1zM899 88h1v1h-1zM900 88h1v1h-1zM901 88h1v1h-1zM902 88h1v1h-1zM903 88h1v1h-1zM904 89h1v1h-1zM905 89h1v1h-1zM906 89h1v1h-1zM907 89h1v1h-1zM908 89h1v1h-1zM909 89h1v1h-1zM910 90h1v1h-1zM911 90h1v1h-1zM912 90h1v1h-1zM913 90h1v1h-1zM914 91h1v1h-1zM915 91h1v1h-1zM916 91h1v1h-1z" fill="#0000cd"/>
<path d="M4 226h1v1h-1zM5 227h1v1h-1zM6 228h1v1h-1zM7 229h1v1h-1zM8 230h1v2h-1zM9 232h1v1h-1zM10 233h1v1h-1zM11 234h1v1h-1zM12 235h1v1h-1zM13 236h1v1h-1zM14 237h1v1h-1zM15 238h1v1h-1zM16 239h1v1h-1zM17 240h1v1h-1zM18 241h1v1h-1zM19 242h1v1h-1zM20 243h1v1h-1zM21 244h1v1h-1zM22 245h1v2h-1zM23 247h1v1h-1zM24 248h1v1h-1zM25 249h1v1h-1zM26 250h1v2h-1zM27 252h1v1h-1zM28 253h1v1h-1zM29 254h1v1h-1zM30 255h1v2h-1zM31 257h1v1h-1zM32 258h1v1h-1zM33 259h1v1h-1zM34 260h1v2h-1zM35 262h1v1h-1zM36 263h1v1h-1zM37 264h1v1h-1zM38 265h1v1h-1zM39 266h1v1h-1zM40 267h1v1h-1zM41 268h1v1h-1zM42 269h1v1h-1zM43 270h1v1h-1zM44 271h1v1h-1zM45 272h1v1h-1zM46 273h1v1h-1zM47 274h1v1h-1zM48 275h1v1h-1zM49 276h1v1h-1zM50 277h1v1h-1zM51 278h1v1h-1zM52 279h1v1h-1zM53 280h1v1h-1zM54 281h1v1h-1zM55 281h1v1h-1zM56 282h1v1h-1zM57 283h1v1h-1zM58 284h1v1h-1zM59 284h1v1h-1zM60 285h1v1h-1zM61 286h1v1h-1zM62 286h1v1h-1zM63 287h1v1h-1zM64 288h1v1h-1zM65 288h1v1h-1zM66 289h1v1h-1zM67 289h1v1h-1zM68 290h1v1h-1zM69 291h1v1h-1zM70 291h1v1h-1zM71 292h1v1h-1zM72 293h1v1h-1zM73 293h1v1h-1zM74 294h1v1h-1zM75 294h1v1h-1zM76 295h1v1h-1zM77 296h1v1h-1zM78 296h1v1h-1zM79 297h1v1h-1zM80 298h1v1h-1zM81 298h1v1h-1zM82 299h1v1h-1zM83 299h1v1h-1zM84 300h1v1h-1zM85 301h1v1h-1zM86 301h1v1h-1zM87 302h1v1h-1zM88 303h1v1h-1zM89 303h1v1h-1zM90 304h1v1h-1zM91 304h1v1h-1zM92 305h1v1h-1zM93 306h1v1h-1zM94 307h1v1h-1zM95 307h1v1h-1zM96 308h1v1h-1zM97 309h1v1h-1zM98 310h1v1h-1zM99 310h1v1h-1zM100 311h1v1h-1zM101 311h1v1h-1zM102 311h1v1h-1zM103 311h1v1h-1zM104 310h1v1h-1zM105 310h1v1h-1zM106 310h1v1h-1zM107 310h1v1h-1zM108 310h1v1h-1zM109 310h1v1h-1zM110 310h1v1h-1zM111 310h1v1h-1zM112 310h1v1h-1zM113 310h1v1h-1zM114 310h1v1h-1zM115 310h1v1h-1zM116 310h1v1h-1zM117 309h1v1h-1zM118 309h1v1h-1zM119 308h1v1h-1zM120 307h1v1h-1zM121 307h1v1h-1zM122 306h1v1h-1zM123 306h1v1h-1zM124 305h1v1h-1zM125 304h1v1h-1zM126 304h1v1h-1zM127 303h1v1h-1zM128 302h1v1h-1zM129 302h1v1h-1zM130 301h1v1h-1zM131 301h1v1h-1zM132 300h1v1h-1zM133 299h1v1h-1zM134 299h1v1h-1zM135 298h1v1h-1zM136 297h1v1h-1zM137 297h1v1h-1zM138 296h1v1h-1zM139 296h1v1h-1zM140 295h1v1h-1zM141 294h1v1h-1zM142 293h1v1h-1zM143 292h1v1h-1zM144 291h1v1h-1zM145 291h1v1h-1zM146 290h1v1h-1zM147 289h1v1h-1zM148 288h1v1h-1zM149 287h1v1h-1zM150 287h1v1h-1zM151 286h1v1h-1zM152 286h1v1h-1zM153 285h1v1h-1zM154 285h1v1h-1zM155 284h1v1h-1zM156 284h1v1h-1zM157 284h1v1h-1zM158 284h1v1h-1zM159 284h1v1h-1zM160 283h1v1h-1zM161 283h1v1h-1zM162 283h1v1h-1zM163 283h1v1h-1zM164 283h1v1h-1zM165 283h1v1h-1zM166 283h1v1h-1zM167 283h1v1h-1zM168 282h1v1h-1zM169 282h1v1h-1zM170 282h1v1h-1zM171 282h1v1h-1zM172 282h1v1h-1zM173 282h1v1h-1zM174 282h1v1h-1zM175 282h1v1h-1zM176 281h1v1h-1zM177 281h1v1h-1zM178 281h1v1h-1zM179 281h1v1h-1zM180 281h1v1h-1zM181 281h1v1h-1zM182 281h1v1h-1zM183 281h1v1h-1zM184 280h1v1h-1zM185 280h1v1h-1zM186 280h1v1h-1zM187 280h1v1h-1zM188 280h1v1h-1zM189 280h1v1h-1zM190 280h1v1h-1zM191 280h1v1h-1zM192 280h1v1h-1zM193 280h1v1h-1zM194 280h1v1h-1zM195 280h1v1h-1zM196 280h1v1h-1zM197 280h1v1h-1zM198 280h1v1h-1zM199 280h1v1h-1zM200 280h1v1h-1zM201 280h1v1h-1zM202 280h1v1h-1zM203 280h1v1h-1zM204 280h1v1h-1zM205 280h1v1h-1zM206 280h1v1h-1zM207 280h1v1h-1zM208 280h1v1h-1zM209 280h1v1h-1zM210 280h1v1h-1zM211 280h1v1h-1zM212 280h1v1h-1zM213 280h1v1h-1zM214 280h1v1h-1zM215 280h1v1h-1zM216 280h1v1h-1zM217 280h1v1h-1zM218 280h1v1h-1zM219 280h1v1h-1zM220 280h1v1h-1zM221 280h1v1h-1zM222 280h1v1h-1zM223 280h1v1h-1zM224 279h1v1h-1zM225 279h1v1h-1zM226 279h1v1h-1zM227 279h1v1h-1zM228 279h1v1h-1zM229 279h1v1h-1zM230 279h1v1h-1zM231 279h1v1h-1zM232 279h1v1h-1zM233 279h1v1h-1zM234 279h1v1h-1zM235 279h1v1h-1zM236 279h1v1h-1zM237 279h1v1h-1zM238 279h1v1h-1zM239 279h1v1h-1zM240 280h1v1h-1zM241 280h1v1h-1zM242 280h1v1h-1zM243 280h1v1h-1zM244 280h1v1h-1zM245 280h1v1h-1zM246 280h1v1h-1zM247 280h1v1h-1zM248 281h1v1h-1zM249 281h1v1h-1zM250 281h1v1h-1zM251 281h1v1h-1zM252 281h1v1h-1zM253 281h1v1h-1zM254 281h1v1h-1zM255 281h1v1h-1zM256 282h1v1h-1zM257 282h1v1h-1zM258 282h1v1h-1zM259 282h1v1h-1zM260 282h1v1h-1zM261 282h1v1h-1zM262 282h1v1h-1zM263 282h1v1h-1zM264 281h1v1h-1zM265 281h1v1h-1zM266 281h1v1h-1zM267 281h1v1h-1zM268 281h1v1h-1zM269 281h1v1h-1zM270 281h1v1h-1zM271 281h1v1h-1zM272 280h1v1h-1zM273 280h1v1h-1zM274 280h1v1h-1zM275 280h1v1h-1zM276 280h1v1h-1zM277 280h1v1h-1zM278 279h1v1h-1zM279 279h1v1h-1zM280 278h1v1h-1zM281 278h1v1h-1zM282 278h1v1h-1zM283 277h1v1h-1zM284 277h1v1h-1zM285 276h1v1h-1zM286 275h1v1h-1zM287 274h1v1h-1zM288 273h1v1h-1zM289 273h1v1h-1zM290 272h1v1h-1zM291 271h1v1h-1zM292 270h1v1h-1zM293 269h1v1h-1zM294 269h1v1h-1zM295 268h1v1h-1zM296 267h1v1h-1zM297 267h1v1h-1zM298 266h1v1h-1zM299 266h1v1h-1zM300 265h1v1h-1zM301 264h1v1h-1zM302 264h1v1h-1zM303 263h1v1h-1zM304 263h1v1h-1zM305 262h1v1h-1zM306 262h1v1h-1zM307 261h1v1h-1zM308 261h1v1h-1zM309 260h1v1h-1zM310 260h1v1h-1zM311 259h1v1h-1zM312 258h1v1h-1zM313 258h1v1h-1zM314 257h1v1h-1zM315 257h1v1h-1zM316 256h1v1h-1zM317 255h1v1h-1zM318 255h1v1h-1zM319 254h1v1h-1zM320 254h1v1h-1zM321 253h1v1h-1zM322 253h1v1h-1zM323 252h1v1h-1zM324 252h1v1h-1zM325 251h1v1h-1zM326 251h1v1h-1zM327 250h1v1h-1zM328 250h1v1h-1zM329 249h1v1h-1zM330 249h1v1h-1zM331 248h1v1h-1zM332 248h1v1h-1zM333 247h1v1h-1zM334 247h1v1h-1zM335 246h1v1h-1zM336 246h1v1h-1zM337 245h1v1h-1zM338 245h1v1h-1zM339 244h1v1h-1zM340 244h1v1h-1zM341 243h1v1h-1zM342 242h1v1h-1zM343 242h1v1h-1zM344 241h1v1h-1zM345 240h1v1h-1zM346 239h1v1h-1zM347 239h1v1h-1zM348 238h1v1h-1zM349 237h1v1h-1zM350 236h1v1h-1zM351 236h1v1h-1zM352 235h1v1h-1zM353 234h1v1h-1zM354 233h1v1h-1zM355 233h1v1h-1zM356 232h1v1h-1zM357 231h1v1h-1zM358 230h1v1h-1zM359 229h1v1h-1zM360 228h1v1h-1zM361 228h1v1h-1zM362 227h1v1h-1zM363 226h1v1h-1zM364 225h1v1h-1zM365 224h1v1h-1zM366 223h1v1h-1zM367 222h1v1h-1zM368 221h1v1h-1zM369 220h1v1h-1zM370 219h1v1h-1zM371 218h1v1h-1zM372 217h1v1h-1zM373 216h1v1h-1zM374 215h1v1h-1zM375 214h1v1h-1zM376 213h1v1h-1zM377 213h1v1h-1zM378 212h1v1h-1zM379 211h1v1h-1zM380 210h1v1h-1zM381 209h1v1h-1zM382 208h1v1h-1zM383 208h1v1h-1zM384 207h1v1h-1zM385 206h1v1h-1zM386 205h1v1h-1zM387 205h1v1h-1zM388 204h1v1h-1zM389 203h1v1h-1zM390 202h1v1h-1zM391 202h1v1h-1zM392 201h1v1h-1zM393 200h1v1h-1zM394 199h1v1h-1zM395 199h1v1h-1zM396 198h1v1h-1zM397 198h1v1h-1zM398 197h1v1h-1zM399 197h1v1h-1zM400 196h1v1h-1zM401 196h1v1h-1zM402 196h1v1h-1zM403 195h1v1h-1zM404 195h1v1h-1zM405 194h1v1h-1zM406 194h1v1h-1zM407 193h1v1h-1zM408 192h1v1h-1zM409 192h1v1h-1zM410 191h1v1h-1zM411 191h1v1h-1zM412 190h1v1h-1zM413 189h1v1h-1zM414 188h1v1h-1zM415 188h1v1h-1zM416 187h1v1h-1zM417 186h1v1h-1zM418 185h1v1h-1zM419 185h1v1h-1zM420 184h1v1h-1zM421 183h1v1h-1zM422 183h1v1h-1zM423 182h1v1h-1zM424 181h1v1h-1zM425 181h1v1h-1zM426 180h1v1h-1zM427 180h1v1h-1zM428 179h1v1h-1zM429 178h1v1h-1zM430 178h1v1h-1zM431 177h1v1h-1zM432 176h1v1h-1zM433 176h1v1h-1zM434 175h1v1h-1zM435 175h1v1h-1zM436 174h1v1h-1zM437 173h1v1h-1zM438 173h1v1h-1zM439 172h1v1h-1zM440 171h1v1h-1zM441 171h1v1h-1zM442 170h1v1h-1zM443 170h1v1h-1zM444 169h1v1h-1zM445 169h1v1h-1zM446 169h1v1h-1zM447 169h1v1h-1zM448 168h1v1h-1zM449 168h1v1h-1zM450 168h1v1h-1zM451 168h1v1h-1zM452 168h1v1h-1zM453 168h1v1h-1zM454 168h1v1h-1zM455 168h1v1h-1zM456 167h1v1h-1zM457 167h1v1h-1zM458 167h1v1h-1zM459 167h1v1h-1zM460 167h1v1h-1zM461 167h1v1h-1zM462 167h1v1h-1zM463 167h1v1h-1zM464 167h1v1h-1zM465 167h1v1h-1zM466 167h1v1h-1zM467 167h1v1h-1zM468 167h1v1h-1zM469 167h1v1h-1zM470 167h1v1h-1zM471 167h1v1h-1zM472 166h1v1h-1zM473 166h1v1h-1zM474 166h1v1h-1zM475 166h1v1h-1zM476 166h1v1h-1zM477 166h1v1h-1zM478 166h1v1h-1zM479 166h1v1h-1zM480 166h1v1h-1zM481 166h1v1h-1zM482 166h1v1h-1zM483 166h1v1h-1zM484 166h1v1h-1zM485 166h1v1h-1zM486 166h1v1h-1zM487 166h1v1h-1zM488 166h1v1h-1zM489 166h1v1h-1zM490 166h1v1h-1zM491 166h1v1h-1zM492 166h1v1h-1zM493 166h1v1h-1zM494 167h1v1h-1zM495 167h1v1h-1zM496 167h1v1h-1zM497 167h1v1h-1zM498 168h1v1h-1zM499 168h1v1h-1zM500 168h1v1h-1zM501 169h1v1h-1zM502 169h1v1h-1zM503 170h1v1h-1zM504 170h1v1h-1zM505 171h1v1h-1zM506 171h1v1h-1zM507 172h1v1h-1zM508 172h1v1h-1zM509 173h1v1h-1zM510 173h1v1h-1zM511 174h1v1h-1zM512 175h1v1h-1zM513 175h1v1h-1zM514 176h1v1h-1zM515 176h1v1h-1zM516 177h1v1h-1zM517 178h1v1h-1zM518 179h1v1h-1zM519 180h1v1h-1zM520 181h1v1h-1zM521 181h1v1h-1zM522 182h1v1h-1zM523 183h1v1h-1zM524 184h1v1h-1zM525 185h1v1h-1zM526 186h1v1h-1zM527 186h1v1h-1zM528 187h1v1h-1zM529 188h1v1h-1zM530 189h1v1h-1zM531 189h1v1h-1zM532 190h1v1h-1zM533 190h1v1h-1zM534 191h1v1h-1zM535 191h1v1h-1zM536 192h1v1h-1zM537 192h1v1h-1zM538 192h1v1h-1zM539 193h1v1h-1zM540 193h1v1h-1zM541 193h1v1h-1zM542 194h1v1h-1zM543 194h1v1h-1zM544 194h1v1h-1zM545 194h1v1h-1zM546 195h1v1h-1zM547 195h1v1h-1zM548 195h1v1h-1zM549 195h1v1h-1zM550 195h1v1h-1zM551 195h1v1h-1zM552 195h1v1h-1zM553 195h1v1h-1zM554 195h1v1h-1zM555 195h1v1h-1zM556 195h1v1h-1zM557 195h1v1h-1zM558 195h1v1h-1zM559 195h1v1h-1zM560 195h1v1h-1zM561 195h1v1h-1zM562 195h1v1h-1zM563 195h1v1h-1zM564 195h1v1h-1zM565 195h1v1h-1zM566 194h1v1h-1zM567 194h1v1h-1zM568 194h1v1h-1zM569 194h1v1h-1zM570 193h1v1h-1zM571 193h1v1h-1zM572 193h1v1h-1zM573 193h1v1h-1zM574 193h1v1h-1zM575 193h1v1h-1zM576 192h1v1h-1zM577 192h1v1h-1zM578 192h1v1h-1zM579 192h1v1h-1zM580 192h1v1h-1zM581 192h1v1h-1zM582 191h1v1h-1zM583 191h1v1h-1zM584 190h1v1h-1zM585 190h1v1h-1zM586 190h1v1h-1zM587 189h1v1h-1zM588 189h1v1h-1zM589 188h1v1h-1zM590 188h1v1h-1zM591 187h1v1h-1zM592 186h1v1h-1zM593 186h1v1h-1zM594 185h1v1h-1zM595 185h1v1h-1zM596 184h1v1h-1zM597 183h1v1h-1zM598 182h1v1h-1zM599 181h1v1h-1zM600 180h1v1h-1zM601 179h1v1h-1zM602 178h1v1h-1zM603 177h1v1h-1zM604 176h1v1h-1zM605 175h1v1h-1zM606 174h1v1h-1zM607 173h1v1h-1zM608 172h1v1h-1zM609 172h1v1h-1zM610 171h1v1h-1zM611 170h1v1h-1zM612 169h1v1h-1zM613 168h1v1h-1zM614 167h1v1h-1zM615 166h1v1h-1zM616 165h1v1h-1zM617 165h1v1h-1zM618 164h1v1h-1zM619 163h1v1h-1zM620 162h1v1h-1zM621 161h1v1h-1zM622 159h1v2h-1zM623 158h1v1h-1zM624 157h1v1h-1zM625 156h1v1h-1zM626 154h1v2h-1zM627 153h1v1h-1zM628 152h1v1h-1zM629 151h1v1h-1zM630 150h1v1h-1zM631 149h1v1h-1zM632 148h1v1h-1zM633 147h1v1h-1zM634 146h1v1h-1zM635 145h1v1h-1zM636 144h1v1h-1zM637 143h1v1h-1zM638 142h1v1h-1zM639 141h1v1h-1zM640 139h1v2h-1zM641 138h1v1h-1zM642 137h1v1h-1zM643 136h1v1h-1zM644 135h1v1h-1zM645 135h1v1h-1zM646 135h1v1h-1zM647 135h1v1h-1zM648 135h1v1h-1zM649 135h1v1h-1zM650 135h1v1h-1zM651 135h1v1h-1zM652 135h1v1h-1zM653 135h1v1h-1zM654 134h1v1h-1zM655 134h1v1h-1zM656 133h1v1h-1zM657 133h1v1h-1zM658 133h1v1h-1zM659 132h1v1h-1zM660 132h1v1h-1zM661 132h1v1h-1zM662 131h1v1h-1zM663 131h1v1h-1zM664 130h1v1h-1zM665 130h1v1h-1zM666 130h1v1h-1zM667 129h1v1h-1zM668 129h1v1h-1zM669 128h1v1h-1zM670 128h1v1h-1zM671 127h1v1h-1zM672 127h1v1h-1zM673 126h1v1h-1zM674 126h1v1h-1zM675 125h1v1h-1zM676 125h1v1h-1zM677 124h1v1h-1zM678 124h1v1h-1zM679 123h1v1h-1zM680 123h1v1h-1zM681 122h1v1h-1zM682 122h1v1h-1zM683 121h1v1h-1zM684 121h1v1h-1zM685 121h1v1h-1zM686 120h1v1h-1zM687 120h1v1h-1zM688 120h1v1h-1zM689 120h1v1h-1zM690 119h1v1h-1zM691 119h1v1h-1zM692 119h1v1h-1zM693 119h1v1h-1zM694 118h1v1h-1zM695 118h1v1h-1zM696 117h1v1h-1zM697 117h1v1h-1zM698 117h1v1h-1zM699 116h1v1h-1zM700 116h1v1h-1zM701 116h1v1h-1zM702 116h1v1h-1zM703 116h1v1h-1zM704 117h1v1h-1zM705 117h1v1h-1zM706 117h1v1h-1zM707 117h1v1h-1zM708 117h1v1h-1zM709 117h1v1h-1zM710 117h1v1h-1zM711 117h1v1h-1zM712 117h1v1h-1zM713 117h1v1h-1zM714 117h1v1h-1zM715 117h1v1h-1zM716 117h1v1h-1zM717 117h1v1h-1zM718 117h1v1h-1zM719 117h1v1h-1zM720 118h1v1h-1zM721 118h1v1h-1zM722 118h1v1h-1zM723 118h1v1h-1zM724 118h1v1h-1zM725 118h1v1h-1zM726 117h1v1h-1zM727 117h1v1h-1zM728 117h1v1h-1zM729 117h1v1h-1zM730 116h1v1h-1zM731 116h1v1h-1zM732 116h1v1h-1zM733 116h1v1h-1zM734 115h1v1h-1zM735 115h1v1h-1zM736 115h1v1h-1zM737 115h1v1h-1zM738 114h1v1h-1zM739 114h1v1h-1zM740 114h1v1h-1zM741 113h1v1h-1zM742 113h1v1h-1zM743 112h1v1h-1zM744 112h1v1h-1zM745 111h1v1h-1zM746 111h1v1h-1zM747 110h1v1h-1zM748 110h1v1h-1zM749 109h1v1h-1zM750 109h1v1h-1zM751 108h1v1h-1zM752 107h1v1h-1zM753 107h1v1h-1zM754 106h1v1h-1zM755 106h1v1h-1zM756 105h1v1h-1zM757 104h1v1h-1zM758 104h1v1h-1zM759 103h1v1h-1zM760 103h1v1h-1zM761 102h1v1h-1zM762 102h1v1h-1zM763 101h1v1h-1zM764 101h1v1h-1zM765 100h1v1h-1zM766 100h1v1h-1zM767 99h1v1h-1zM768 98h1v1h-1zM769 98h1v1h-1zM770 97h1v1h-1zM771 97h1v1h-1zM772 96h1v1h-1zM773 95h1v1h-1zM774 95h1v1h-1zM775 94h1v1h-1zM776 94h1v1h-1zM777 93h1v1h-1zM778 93h1v1h-1zM779 92h1v1h-1zM780 92h1v1h-1zM781 92h1v1h-1zM782 91h1v1h-1zM783 91h1v1h-1zM784 90h1v1h-1zM785 90h1v1h-1zM786 90h1v1h-1zM787 89h1v1h-1zM788 89h1v1h-1zM789 88h1v1h-1zM790 88h1v1h-1zM791 87h1v1h-1zM792 87h1v1h-1zM793 86h1v1h-1zM794 86h1v1h-1zM795 85h1v1h-1zM796 85h1v1h-1zM797 85h1v1h-1zM798 84h1v1h-1zM799 84h1v1h-1zM800 83h1v1h-1zM801 83h1v1h-1zM802 83h1v1h-1zM803 82h1v1h-1zM804 82h1v1h-1zM805 82h1v1h-1zM806 82h1v1h-1zM807 82h1v1h-1zM808 81h1v1h-1zM809 81h1v1h-1zM810 81h1v1h-1zM811 81h1v1h-1zM812 81h1v1h-1zM813 81h1v1h-1zM814 80h1v1h-1zM815 80h1v1h-1zM816 80h1v1h-1zM817 80h1v1h-1zM818 79h1v1h-1zM819 79h1v1h-1zM820 79h1v1h-1zM821 79h1v1h-1zM822 78h1v1h-1zM823 78h1v1h-1zM824 78h1v1h-1zM825 78h1v1h-1zM826 77h1v1h-1zM827 77h1v1h-1zM828 77h1v1h-1zM829 77h1v1h-1zM830 77h1v1h-1zM831 77h1v1h-1zM832 77h1v1h-1zM833 77h1v1h-1zM834 77h1v1h-1zM835 77h1v1h-1zM836 77h1v1h-1zM837 77h1v1h-1zM838 77h1v1h-1zM839 77h1v1h-1zM840 78h1v1h-1zM841 78h1v1h-1zM842 78h1v1h-1zM843 78h1v1h-1zM844 78h1v1h-1zM845 78h1v1h-1zM846 78h1v1h-1zM847 78h1v1h-1zM848 79h1v1h-1zM849 79h1v1h-1zM850 79h1v1h-1zM851 79h1v1h-1zM852 79h1v1h-1zM853 80h1v1h-1zM854 80h1v1h-1zM855 81h1v1h-1zM856 81h1v1h-1zM857 82h1v1h-1zM858 82h1v1h-1zM859 83h1v1h-1zM860 83h1v1h-1zM861 84h1v1h-1zM862 84h1v1h-1zM863 85h1v1h-1zM864 85h1v1h-1zM865 86h1v1h-1zM866 86h1v1h-1zM867 87h1v1h-1zM868 87h1v1h-1zM869 88h1v1h-1zM870 88h1v1h-1zM871 89h1v1h-1zM872 89h1v1h-1zM873 90h1v1h-1zM874 90h1v1h-1zM875 91h1v1h-1zM876 91h1v1h-1zM877 92h1v1h-1zM878 92h1v1h-1zM879 93h1v1h-1zM880 94h1v1h-1zM881 94h1v1h-1zM882 95h1v1h-1zM883 95h1v1h-1zM884 96h1v1h-1zM885 96h1v1h-1zM886 97h1v1h-1zM887 97h1v1h-1zM888 97h1v1h-1zM889 97h1v1h-1zM890 98h1v1h-1zM891 98h1v1h-1zM892 98h1v1h-1zM893 98h1v1h-1zM894 98h1v1h-1zM895 98h1v1h-1zM896 99h1v1h-1zM897 99h1v1h-1zM898 99h1v1h-1zM899 99h1v1h-1zM900 99h1v1h-1zM901 99h1v1h-1zM902 99h1v1h-1zM903 99h1v1h-1zM904 100h1v1h-1zM905 100h1v1h-1zM906 100h1v1h-1zM907 100h1v1h-1zM908 100h1v1h-1zM909 100h1v1h-1zM910 100h1v1h-1zM911 100h1v1h-1zM912 101h1v1h-1zM913 101h1v1h-1zM914 101h1v1h-1zM915 101h1v1h-1zM916 101h1v1h-1z" fill="#ff0000"/>
<rect x="4" y="103" width="1162" height="2" fill="#ff0000"/>
<rect x="4" y="157" width="1162" height="2" fill="#7cfc00"/>
<rect x="4" y="221" width="1162" height="2" fill="#0000ff"/>
<rect x="4" y="285" width="1162" height="2" fill="#0000ff"/>
<rect x="4" y="339" width="1162" height="2" fill="#0000ff"/>
<rect x="3" y="101" width="6" height="6" fill="#ff0000"/>
<rect x="5" y="103" width="2" height="2" fill="#fff"/>
<rect x="3" y="155" width="6" height="6" fill="#7cfc00"/>
<rect x="5" y="157" width="2" height="2" fill="#fff"/>
<rect x="3" y="219" width="6" height="6" fill="#0000ff"/>
<rect x="5" y="221" width="2" height="2" fill="#fff"/>
<rect x="3" y="283" width="6" height="6" fill="#0000ff"/>
<rect x="5" y="285" width="2" height="2" fill="#fff"/>
<rect x="3" y="337" width="6" height="6" fill="#0000ff"/>
<rect x="5" y="339" width="2" height="2" fill="#fff"/>
<g clip-path="url(#cmain)">
<rect x="4" y="274" width="1" height="32" fill="#2ac82a"/>
<rect x="2" y="281" width="5" height="14" fill="#2ac82a"/>
<rect x="3" y="282" width="3" height="12" fill="#32cd32"/>
<rect x="12" y="342" width="1" height="34" fill="#2ac82a"/>
<rect x="10" y="346" width="5" height="22" fill="#2ac82a"/>
<rect x="11" y="347" width="3" height="20" fill="#32cd32"/>
<rect x="20" y="315" width="1" height="53" fill="#ff0000"/>
<rect x="18" y="323" width="5" height="45" fill="#ff0000"/>
<rect x="19" y="324" width="3" height="43" fill="#ff4500"/>
<rect x="28" y="316" width="1" height="32" fill="#2ac82a"/>
<rect x="26" y="323" width="5" height="13" fill="#2ac82a"/>
<rect x="27" y="324" width="3" height="11" fill="#32cd32"/>
<rect x="36" y="334" width="1" height="57" fill="#2ac82a"/>
<rect x="34" y="335" width="5" height="34" fill="#2ac82a"/>
<rect x="35" y="336" width="3" height="32" fill="#32cd32"/>
<rect x="44" y="316" width="1" height="95" fill="#ff0000"/>
<rect x="42" y="328" width="5" height="41" fill="#ff0000"/>
<rect x="43" y="329" width="3" height="39" fill="#ff4500"/>
<rect x="52" y="284" width="1" height="47" fill="#ff0000"/>
<rect x="50" y="304" width="5" height="25" fill="#ff0000"/>
<rect x="51" y="305" width="3" height="23" fill="#ff4500"/>
<rect x="60" y="300" width="1" height="8" fill="#ff0000"/>
<rect x="58" y="302" width="5" height="3" fill="#ff0000"/>
<rect x="59" y="303" width="3" height="1" fill="#ff4500"/>
<rect x="68" y="291" width="1" height="31" fill="#2ac82a"/>
<rect x="66" y="302" width="5" height="13" fill="#2ac82a"/>
<rect x="67" y="303" width="3" height="11" fill="#32cd32"/>
<rect x="76" y="293" width="1" height="22" fill="#ff0000"/>
<rect x="74" y="294" width="5" height="21" fill="#ff0000"/>
<rect x="75" y="295" width="3" height="19" fill="#ff4500"/>
<rect x="84" y="280" width="1" height="25" fill="#ff0000"/>
<rect x="82" y="283" width="5" height="12" fill="#ff0000"/>
<rect x="83" y="284" width="3" height="10" fill="#ff4500"/>
<rect x="92" y="269" width="1" height="36" fill="#2ac82a"/>
<rect x="90" y="283" width="5" height="1" fill="#2ac82a"/>
<rect x="100" y="268" width="1" height="42" fill="#ff0000"/>
<rect x="98" y="275" width="5" height="9" fill="#ff0000"/>
<rect x="99" y="276" width="3" height="7" fill="#ff4500"/>
<rect x="108" y="271" width="1" height="9" fill="#2ac82a"/>
<rect x="106" y="275" width="5" height="3" fill="#2ac82a"/>
<rect x="107" y="276" width="3" height="1" fill="#32cd32"/>
<rect x="116" y="279" width="1" height="15" fill="#ff0000"/>
<rect x="114" y="282" width="5" height="11" fill="#ff0000"/>
<rect x="115" y="283" width="3" height="9" fill="#ff4500"/>
<rect x="124" y="265" width="1" height="21" fill="#ff0000"/>
<rect x="122" y="272" width="5" height="11" fill="#ff0000"/>
<rect x="123" y="273" width="3" height="9" fill="#ff4500"/>
<rect x="132" y="260" width="1" height="16" fill="#ff0000"/>
<rect x="130" y="260" width="5" height="13" fill="#ff0000"/>
<rect x="131" y="261" width="3" height="11" fill="#ff4500"/>
<rect x="140" y="253" width="1" height="28" fill="#2ac82a"/>
<rect x="138" y="260" width="5" height="9" fill="#2ac82a"/>
<rect x="139" y="261" width="3" height="7" fill="#32cd32"/>
<rect x="148" y="258" width="1" height="45" fill="#2ac82a"/>
<rect x="146" y="268" width="5" height="13" fill="#2ac82a"/>
<rect x="147" y="269" width="3" height="11" fill="#32cd32"/>
<rect x="156" y="271" width="1" height="24" fill="#ff0000"/>
<rect x="154" y="278" width="5" height="3" fill="#ff0000"/>
<rect x="155" y="279" width="3" height="1" fill="#ff4500"/>
<rect x="164" y="274" width="1" height="26" fill="#2ac82a"/>
<rect x="162" y="278" width="5" height="15" fill="#2ac82a"/>
<rect x="163" y="279" width="3" height="13" fill="#32cd32"/>
<rect x="172" y="287" width="1" height="16" fill="#ff0000"/>
<rect x="170" y="292" width="5" height="2" fill="#ff0000"/>
<rect x="180" y="291" width="1" height="23" fill="#2ac82a"/>
<rect x="178" y="292" width="5" height="6" fill="#2ac82a"/>
<rect x="179" y="293" width="3" height="4" fill="#32cd32"/>
<rect x="188" y="271" width="1" height="28" fill="#ff0000"/>
<rect x="186" y="276" width="5" height="22" fill="#ff0000"/>
<rect x="187" y="277" width="3" height="20" fill="#ff4500"/>
<rect x="196" y="261" width="1" height="39" fill="#2ac82a"/>
<rect x="194" y="275" width="5" height="15" fill="#2ac82a"/>
<rect x="195" y="276" width="3" height="13" fill="#32cd32"/>
<rect x="204" y="280" width="1" height="24" fill="#ff0000"/>
<rect x="202" y="285" width="5" height="5" fill="#ff0000"/>
<rect x="203" y="286" width="3" height="3" fill="#ff4500"/>
<rect x="212" y="270" width="1" height="24" fill="#ff0000"/>
<rect x="210" y="276" width="5" height="10" fill="#ff0000"/>
<rect x="211" y="277" width="3" height="8" fill="#ff4500"/>
<rect x="220" y="266" width="1" height="17" fill="#ff0000"/>
<rect x="218" y="268" width="5" height="8" fill="#ff0000"/>
<rect x="219" y="269" width="3" height="6" fill="#ff4500"/>
<rect x="228" y="266" width="1" height="17" fill="#2ac82a"/>
<rect x="226" y="268" width="5" height="5" fill="#2ac82a"/>
<rect x="227" y="269" width="3" height="3" fill="#32cd32"/>
<rect x="236" y="257" width="1" height="19" fill="#ff0000"/>
<rect x="234" y="267" width="5" height="5" fill="#ff0000"/>
<rect x="235" y="268" width="3" height="3" fill="#ff4500"/>
<rect x="244" y="264" width="1" height="38" fill="#2ac82a"/>
<rect x="242" y="267" width="5" height="33" fill="#2ac82a"/>
<rect x="243" y="268" width="3" height="31" fill="#32cd32"/>
<rect x="252" y="272" width="1" height="30" fill="#ff0000"/>
<rect x="250" y="272" width="5" height="28" fill="#ff0000"/>
<rect x="251" y="273" width="3" height="26" fill="#ff4500"/>
<rect x="260" y="270" width="1" height="7" fill="#2ac82a"/>
<rect x="258" y="272" width="5" height="3" fill="#2ac82a"/>
<rect x="259" y="273" width="3" height="1" fill="#32cd32"/>
<rect x="268" y="266" width="1" height="17" fill="#ff0000"/>
<rect x="266" y="270" width="5" height="5" fill="#ff0000"/>
<rect x="267" y="271" width="3" height="3" fill="#ff4500"/>
<rect x="276" y="264" width="1" height="16" fill="#ff0000"/>
<rect x="274" y="265" width="5" height="6" fill="#ff0000"/>
<rect x="275" y="266" width="3" height="4" fill="#ff4500"/>
<rect x="284" y="260" width="1" height="12" fill="#ff0000"/>
<rect x="282" y="265" width="5" height="1" fill="#ff0000"/>
<rect x="292" y="205" width="1" height="67" fill="#ff0000"/>
<rect x="290" y="208" width="5" height="58" fill="#ff0000"/>
<rect x="291" y="209" width="3" height="56" fill="#ff4500"/>
<rect x="300" y="199" width="1" height="20" fill="#2ac82a"/>
<rect x="298" y="208" width="5" height="9" fill="#2ac82a"/>
<rect x="299" y="209" width="3" height="7" fill="#32cd32"/>
<rect x="308" y="208" width="1" height="11" fill="#ff0000"/>
<rect x="306" y="213" width="5" height="4" fill="#ff0000"/>
<rect x="307" y="214" width="3" height="2" fill="#ff4500"/>
<rect x="316" y="201" width="1" height="19" fill="#ff0000"/>
<rect x="314" y="212" width="5" height="2" fill="#ff0000"/>
<rect x="324" y="208" width="1" height="13" fill="#ff0000"/>
<rect x="322" y="210" width="5" height="2" fill="#ff0000"/>
<rect x="332" y="196" width="1" height="34" fill="#2ac82a"/>
<rect x="330" y="210" width="5" height="14" fill="#2ac82a"/>
<rect x="331" y="211" width="3" height="12" fill="#32cd32"/>
<rect x="340" y="204" width="1" height="31" fill="#ff0000"/>
<rect x="338" y="205" width="5" height="20" fill="#ff0000"/>
<rect x="339" y="206" width="3" height="18" fill="#ff4500"/>
<rect x="348" y="191" width="1" height="20" fill="#ff0000"/>
<rect x="346" y="193" width="5" height="13" fill="#ff0000"/>
<rect x="347" y="194" width="3" height="11" fill="#ff4500"/>
<rect x="356" y="192" width="1" height="4" fill="#2ac82a"/>
<rect x="354" y="193" width="5" height="2" fill="#2ac82a"/>
<rect x="364" y="181" width="1" height="11" fill="#ff0000"/>
<rect x="362" y="185" width="5" height="6" fill="#ff0000"/>
<rect x="363" y="186" width="3" height="4" fill="#ff4500"/>
<rect x="372" y="171" width="1" height="17" fill="#ff0000"/>
<rect x="370" y="178" width="5" height="8" fill="#ff0000"/>
<rect x="371" y="179" width="3" height="6" fill="#ff4500"/>
<rect x="380" y="173" width="1" height="15" fill="#2ac82a"/>
<rect x="378" y="178" width="5" height="3" fill="#2ac82a"/>
<rect x="379" y="179" width="3" height="1" fill="#32cd32"/>
<rect x="388" y="174" width="1" height="16" fill="#2ac82a"/>
<rect x="386" y="180" width="5" height="2" fill="#2ac82a"/>
<rect x="396" y="171" width="1" height="17" fill="#ff0000"/>
<rect x="394" y="173" width="5" height="8" fill="#ff0000"/>
<rect x="395" y="174" width="3" height="6" fill="#ff4500"/>
<rect x="404" y="171" width="1" height="5" fill="#ff0000"/>
<rect x="402" y="171" width="5" height="3" fill="#ff0000"/>
<rect x="403" y="172" width="3" height="1" fill="#ff4500"/>
<rect x="412" y="145" width="1" height="15" fill="#ff0000"/>
<rect x="410" y="148" width="5" height="6" fill="#ff0000"/>
<rect x="411" y="149" width="3" height="4" fill="#ff4500"/>
<rect x="420" y="135" width="1" height="26" fill="#ff0000"/>
<rect x="418" y="136" width="5" height="13" fill="#ff0000"/>
<rect x="419" y="137" width="3" height="11" fill="#ff4500"/>
<rect x="428" y="115" width="1" height="25" fill="#ff0000"/>
<rect x="426" y="120" width="5" height="17" fill="#ff0000"/>
<rect x="427" y="121" width="3" height="15" fill="#ff4500"/>
<rect x="436" y="115" width="1" height="24" fill="#2ac82a"/>
<rect x="434" y="120" width="5" height="8" fill="#2ac82a"/>
<rect x="435" y="121" width="3" height="6" fill="#32cd32"/>
<rect x="444" y="105" width="1" height="65" fill="#2ac82a"/>
<rect x="442" y="127" width="5" height="35" fill="#2ac82a"/>
<rect x="443" y="128" width="3" height="33" fill="#32cd32"/>
<rect x="452" y="144" width="1" height="68" fill="#2ac82a"/>
<rect x="450" y="161" width="5" height="33" fill="#2ac82a"/>
<rect x="451" y="162" width="3" height="31" fill="#32cd32"/>
<rect x="460" y="186" width="1" height="14" fill="#2ac82a"/>
<rect x="458" y="193" width="5" height="3" fill="#2ac82a"/>
<rect x="459" y="194" width="3" height="1" fill="#32cd32"/>
<rect x="468" y="183" width="1" height="16" fill="#ff0000"/>
<rect x="466" y="194" width="5" height="2" fill="#ff0000"/>
<rect x="476" y="163" width="1" height="41" fill="#ff0000"/>
<rect x="474" y="166" width="5" height="29" fill="#ff0000"/>
<rect x="475" y="167" width="3" height="27" fill="#ff4500"/>
<rect x="484" y="160" width="1" height="31" fill="#2ac82a"/>
<rect x="482" y="166" width="5" height="23" fill="#2ac82a"/>
<rect x="483" y="167" width="3" height="21" fill="#32cd32"/>
<rect x="492" y="144" width="1" height="47" fill="#ff0000"/>
<rect x="490" y="173" width="5" height="16" fill="#ff0000"/>
<rect x="491" y="174" width="3" height="14" fill="#ff4500"/>
<rect x="500" y="156" width="1" height="44" fill="#2ac82a"/>
<rect x="498" y="173" width="5" height="25" fill="#2ac82a"/>
<rect x="499" y="174" width="3" height="23" fill="#32cd32"/>
<rect x="508" y="196" width="1" height="36" fill="#2ac82a"/>
<rect x="506" y="197" width="5" height="34" fill="#2ac82a"/>
<rect x="507" y="198" width="3" height="32" fill="#32cd32"/>
<rect x="516" y="221" width="1" height="37" fill="#2ac82a"/>
<rect x="514" y="230" width="5" height="4" fill="#2ac82a"/>
<rect x="515" y="231" width="3" height="2" fill="#32cd32"/>
<rect x="524" y="219" width="1" height="20" fill="#2ac82a"/>
<rect x="522" y="233" width="5" height="3" fill="#2ac82a"/>
<rect x="523" y="234" width="3" height="1" fill="#32cd32"/>
<rect x="532" y="227" width="1" height="26" fill="#2ac82a"/>
<rect x="530" y="235" width="5" height="15" fill="#2ac82a"/>
<rect x="531" y="236" width="3" height="13" fill="#32cd32"/>
<rect x="540" y="159" width="1" height="107" fill="#ff0000"/>
<rect x="538" y="164" width="5" height="86" fill="#ff0000"/>
<rect x="539" y="165" width="3" height="84" fill="#ff4500"/>
<rect x="548" y="149" width="1" height="19" fill="#ff0000"/>
<rect x="546" y="156" width="5" height="9" fill="#ff0000"/>
<rect x="547" y="157" width="3" height="7" fill="#ff4500"/>
<rect x="556" y="146" width="1" height="12" fill="#ff0000"/>
<rect x="554" y="152" width="5" height="5" fill="#ff0000"/>
<rect x="555" y="153" width="3" height="3" fill="#ff4500"/>
<rect x="564" y="152" width="1" height="17" fill="#2ac82a"/>
<rect x="562" y="152" width="5" height="16" fill="#2ac82a"/>
<rect x="563" y="153" width="3" height="14" fill="#32cd32"/>
<rect x="572" y="158" width="1" height="29" fill="#2ac82a"/>
<rect x="570" y="167" width="5" height="19" fill="#2ac82a"/>
<rect x="571" y="168" width="3" height="17" fill="#32cd32"/>
<rect x="580" y="165" width="1" height="26" fill="#ff0000"/>
<rect x="578" y="173" width="5" height="13" fill="#ff0000"/>
<rect x="579" y="174" width="3" height="11" fill="#ff4500"/>
<rect x="588" y="115" width="1" height="61" fill="#ff0000"/>
<rect x="586" y="131" width="5" height="43" fill="#ff0000"/>
<rect x="587" y="132" width="3" height="41" fill="#ff4500"/>
<rect x="596" y="96" width="1" height="39" fill="#ff0000"/>
<rect x="594" y="99" width="5" height="32" fill="#ff0000"/>
<rect x="595" y="100" width="3" height="30" fill="#ff4500"/>
<rect x="604" y="96" width="1" height="5" fill="#ff0000"/>
<rect x="602" y="98" width="5" height="2" fill="#ff0000"/>
<rect x="612" y="94" width="1" height="7" fill="#2ac82a"/>
<rect x="610" y="97" width="5" height="4" fill="#2ac82a"/>
<rect x="611" y="98" width="3" height="2" fill="#32cd32"/>
<rect x="620" y="96" width="1" height="28" fill="#2ac82a"/>
<rect x="618" y="100" width="5" height="10" fill="#2ac82a"/>
<rect x="619" y="101" width="3" height="8" fill="#32cd32"/>
<rect x="628" y="107" width="1" height="14" fill="#2ac82a"/>
<rect x="626" y="109" width="5" height="5" fill="#2ac82a"/>
<rect x="627" y="110" width="3" height="3" fill="#32cd32"/>
<rect x="636" y="106" width="1" height="22" fill="#2ac82a"/>
<rect x="634" y="113" width="5" height="7" fill="#2ac82a"/>
<rect x="635" y="114" width="3" height="5" fill="#32cd32"/>
<rect x="644" y="108" width="1" height="41" fill="#2ac82a"/>
<rect x="642" y="120" width="5" height="10" fill="#2ac82a"/>
<rect x="643" y="121" width="3" height="8" fill="#32cd32"/>
<rect x="652" y="120" width="1" height="22" fill="#2ac82a"/>
<rect x="650" y="129" width="5" height="7" fill="#2ac82a"/>
<rect x="651" y="130" width="3" height="5" fill="#32cd32"/>
<rect x="660" y="114" width="1" height="23" fill="#ff0000"/>
<rect x="658" y="123" width="5" height="13" fill="#ff0000"/>
<rect x="659" y="124" width="3" height="11" fill="#ff4500"/>
<rect x="668" y="114" width="1" height="22" fill="#ff0000"/>
<rect x="666" y="117" width="5" height="7" fill="#ff0000"/>
<rect x="667" y="118" width="3" height="5" fill="#ff4500"/>
<rect x="676" y="114" width="1" height="16" fill="#2ac82a"/>
<rect x="674" y="117" width="5" height="4" fill="#2ac82a"/>
<rect x="675" y="118" width="3" height="2" fill="#32cd32"/>
<rect x="684" y="115" width="1" height="32" fill="#2ac82a"/>
<rect x="682" y="121" width="5" height="17" fill="#2ac82a"/>
<rect x="683" y="122" width="3" height="15" fill="#32cd32"/>
<rect x="692" y="100" width="1" height="45" fill="#ff0000"/>
<rect x="690" y="114" width="5" height="23" fill="#ff0000"/>
<rect x="691" y="115" width="3" height="21" fill="#ff4500"/>
<rect x="700" y="98" width="1" height="59" fill="#ff0000"/>
<rect x="698" y="102" width="5" height="13" fill="#ff0000"/>
<rect x="699" y="103" width="3" height="11" fill="#ff4500"/>
<rect x="708" y="102" width="1" height="16" fill="#2ac82a"/>
<rect x="706" y="102" width="5" height="13" fill="#2ac82a"/>
<rect x="707" y="103" width="3" height="11" fill="#32cd32"/>
<rect x="716" y="102" width="1" height="15" fill="#ff0000"/>
<rect x="714" y="109" width="5" height="6" fill="#ff0000"/>
<rect x="715" y="110" width="3" height="4" fill="#ff4500"/>
<rect x="724" y="97" width="1" height="14" fill="#ff0000"/>
<rect x="722" y="102" width="5" height="8" fill="#ff0000"/>
<rect x="723" y="103" width="3" height="6" fill="#ff4500"/>
<rect x="732" y="80" width="1" height="32" fill="#ff0000"/>
<rect x="730" y="92" width="5" height="11" fill="#ff0000"/>
<rect x="731" y="93" width="3" height="9" fill="#ff4500"/>
<rect x="740" y="72" width="1" height="42" fill="#ff0000"/>
<rect x="738" y="73" width="5" height="20" fill="#ff0000"/>
<rect x="739" y="74" width="3" height="18" fill="#ff4500"/>
<rect x="748" y="47" width="1" height="29" fill="#ff0000"/>
<rect x="746" y="55" width="5" height="19" fill="#ff0000"/>
<rect x="747" y="56" width="3" height="17" fill="#ff4500"/>
<rect x="756" y="55" width="1" height="12" fill="#2ac82a"/>
<rect x="754" y="55" width="5" height="12" fill="#2ac82a"/>
<rect x="755" y="56" width="3" height="10" fill="#32cd32"/>
<rect x="764" y="55" width="1" height="16" fill="#ff0000"/>
<rect x="762" y="61" width="5" height="6" fill="#ff0000"/>
<rect x="763" y="62" width="3" height="4" fill="#ff4500"/>
<rect x="772" y="59" width="1" height="22" fill="#2ac82a"/>
<rect x="770" y="61" width="5" height="13" fill="#2ac82a"/>
<rect x="771" y="62" width="3" height="11" fill="#32cd32"/>
<rect x="780" y="63" width="1" height="17" fill="#ff0000"/>
<rect x="778" y="70" width="5" height="3" fill="#ff0000"/>
<rect x="779" y="71" width="3" height="1" fill="#ff4500"/>
<rect x="788" y="63" width="1" height="28" fill="#2ac82a"/>
<rect x="786" y="70" width="5" height="2" fill="#2ac82a"/>
<rect x="796" y="69" width="1" height="19" fill="#2ac82a"/>
<rect x="794" y="71" width="5" height="9" fill="#2ac82a"/>
<rect x="795" y="72" width="3" height="7" fill="#32cd32"/>
<rect x="804" y="76" width="1" height="10" fill="#2ac82a"/>
<rect x="802" y="79" width="5" height="2" fill="#2ac82a"/>
<rect x="812" y="79" width="1" height="25" fill="#2ac82a"/>
<rect x="810" y="80" width="5" height="11" fill="#2ac82a"/>
<rect x="811" y="81" width="3" height="9" fill="#32cd32"/>
<rect x="820" y="79" width="1" height="17" fill="#2ac82a"/>
<rect x="818" y="90" width="5" height="2" fill="#2ac82a"/>
<rect x="828" y="57" width="1" height="36" fill="#ff0000"/>
<rect x="826" y="62" width="5" height="30" fill="#ff0000"/>
<rect x="827" y="63" width="3" height="28" fill="#ff4500"/>
<rect x="836" y="54" width="1" height="82" fill="#2ac82a"/>
<rect x="834" y="62" width="5" height="52" fill="#2ac82a"/>
<rect x="835" y="63" width="3" height="50" fill="#32cd32"/>
<rect x="844" y="85" width="1" height="35" fill="#ff0000"/>
<rect x="842" y="95" width="5" height="19" fill="#ff0000"/>
<rect x="843" y="96" width="3" height="17" fill="#ff4500"/>
<rect x="852" y="92" width="1" height="9" fill="#2ac82a"/>
<rect x="850" y="95" width="5" height="6" fill="#2ac82a"/>
<rect x="851" y="96" width="3" height="4" fill="#32cd32"/>
<rect x="860" y="120" width="1" height="8" fill="#2ac82a"/>
<rect x="858" y="124" width="5" height="3" fill="#2ac82a"/>
<rect x="859" y="125" width="3" height="1" fill="#32cd32"/>
<rect x="868" y="120" width="1" height="19" fill="#ff0000"/>
<rect x="866" y="125" width="5" height="2" fill="#ff0000"/>
<rect x="876" y="119" width="1" height="23" fill="#2ac82a"/>
<rect x="874" y="125" width="5" height="6" fill="#2ac82a"/>
<rect x="875" y="126" width="3" height="4" fill="#32cd32"/>
<rect x="884" y="113" width="1" height="27" fill="#2ac82a"/>
<rect x="882" y="130" width="5" height="1" fill="#2ac82a"/>
<rect x="892" y="79" width="1" height="73" fill="#ff0000"/>
<rect x="890" y="82" width="5" height="49" fill="#ff0000"/>
<rect x="891" y="83" width="3" height="47" fill="#ff4500"/>
<rect x="900" y="64" width="1" height="44" fill="#2ac82a"/>
<rect x="898" y="82" width="5" height="4" fill="#2ac82a"/>
<rect x="899" y="83" width="3" height="2" fill="#32cd32"/>
<rect x="908" y="84" width="1" height="10" fill="#2ac82a"/>
<rect x="906" y="85" width="5" height="9" fill="#2ac82a"/>
<rect x="907" y="86" width="3" height="7" fill="#32cd32"/>
<rect x="916" y="92" width="1" height="4" fill="#2ac82a"/>
<rect x="914" y="92" width="5" height="3" fill="#2ac82a"/>
<rect x="915" y="93" width="3" height="1" fill="#32cd32"/>
</g>
<rect x="1160" y="101" width="6" height="6" fill="#ff0000"/>
<rect x="1162" y="103" width="2" height="2" fill="#fff"/>
<rect x="1160" y="155" width="6" height="6" fill="#7cfc00"/>
<rect x="1162" y="157" width="2" height="2" fill="#fff"/>
<rect x="1160" y="219" width="6" height="6" fill="#0000ff"/>
<rect x="1162" y="221" width="2" height="2" fill="#fff"/>
<rect x="1160" y="283" width="6" height="6" fill="#0000ff"/>
<rect x="1162" y="285" width="2" height="2" fill="#fff"/>
<rect x="1160" y="337" width="6" height="6" fill="#0000ff"/>
<rect x="1162" y="339" width="2" height="2" fill="#fff"/>
<rect x="1168" y="89" width="41" height="9" fill="#000000"/>
<text x="1172" y="97" font-size="9.3" fill="#fff">120.531</text>
<rect x="1168" y="98" width="41" height="11" fill="#ff0000"/>
<text x="1172" y="107" font-size="9.3" fill="#fff">120.011</text>
<rect x="1168" y="152" width="41" height="11" fill="#7cfc00"/>
<text x="1172" y="161" font-size="9.3" fill="#fff">117.019</text>
<rect x="1168" y="216" width="41" height="11" fill="#0000ff"/>
<text x="1172" y="225" font-size="9.3" fill="#fff">113.518</text>
<rect x="1168" y="280" width="41" height="11" fill="#0000ff"/>
<text x="1172" y="289" font-size="9.3" fill="#fff">110.017</text>
<rect x="1168" y="334" width="41" height="11" fill="#0000ff"/>
<text x="1172" y="343" font-size="9.3" fill="#fff">107.056</text>
<defs><linearGradient id="gtop" x1="0" y1="0" x2="0" y2="1"><stop offset="0" stop-color="#fb5a5a"/><stop offset="1" stop-color="#dc2a2a"/></linearGradient><linearGradient id="gbot" x1="0" y1="0" x2="0" y2="1"><stop offset="0" stop-color="#dd2a2a"/><stop offset="1" stop-color="#b00202"/></linearGradient><linearGradient id="gbtn" x1="0" y1="0" x2="0" y2="1"><stop offset="0" stop-color="#f2f2f2"/><stop offset="0.45" stop-color="#ebebeb"/><stop offset="0.5" stop-color="#dcdcdc"/><stop offset="1" stop-color="#d4d4d4"/></linearGradient></defs>
<rect x="5" y="44" width="223" height="61" fill="#ffffff"/>
<rect x="7" y="71" width="109" height="33" fill="#b40000"/>
<rect x="8" y="72" width="107" height="31" fill="url(#gbot)"/>
<rect x="7" y="47" width="52" height="25" fill="#b40000"/>
<rect x="8" y="48" width="50" height="23" fill="url(#gtop)"/>
<rect x="8" y="71" width="50" height="1" fill="#dd2a2a"/>
<rect x="11" y="70" width="44" height="1" fill="#b40000"/>
<rect x="11" y="71" width="44" height="1" fill="#f29a9a"/>
<rect x="118" y="71" width="108" height="33" fill="#b40000"/>
<rect x="119" y="72" width="106" height="31" fill="url(#gbot)"/>
<rect x="174" y="47" width="52" height="25" fill="#b40000"/>
<rect x="175" y="48" width="50" height="23" fill="url(#gtop)"/>
<rect x="175" y="71" width="50" height="1" fill="#dd2a2a"/>
<rect x="178" y="70" width="44" height="1" fill="#b40000"/>
<rect x="178" y="71" width="44" height="1" fill="#f29a9a"/>
<rect x="61" y="47" width="111" height="22" fill="#a9abb2"/>
<rect x="62" y="48" width="109" height="20" fill="#ffffff"/>
<rect x="82" y="48" width="1" height="20" fill="#a9abb2"/>
<rect x="150" y="48" width="1" height="20" fill="#a9abb2"/>
<rect x="63" y="49" width="19" height="18" fill="url(#gbtn)"/>
<rect x="151" y="49" width="19" height="18" fill="url(#gbtn)"/>
<polygon points="69,56 74.5,56 71.75,59.5" fill="#4a5cc8"/>
<polygon points="157.5,59.5 163,59.5 160.25,56" fill="#4a5cc8"/>
<text x="147" y="62" font-size="12.5" fill="#000" text-anchor="end">2.00</text>
<text x="19" y="63" font-size="12" fill="#fff">SELL</text>
<text x="187.5" y="63" font-size="12" fill="#fff">BUY</text>
<text x="30" y="99" font-size="12.3" fill="#fff" font-weight="bold">120</text>
<text x="54.8" y="99" font-size="34" fill="#fff" textLength="35" lengthAdjust="spacingAndGlyphs">53</text>
<text x="94" y="83" font-size="12" fill="#fff" font-weight="bold">1</text>
<text x="140" y="99" font-size="12.3" fill="#fff" font-weight="bold">120</text>
<text x="164.5" y="99" font-size="34" fill="#fff">60</text>
<text x="205.5" y="83" font-size="12" fill="#fff" font-weight="bold">1</text>
<polygon points="7,38 14,38 10.5,34" fill="#000"/>
<text x="19" y="39" font-size="9.3" fill="#000">USOil-,H4</text>
<text x="68" y="39" font-size="9.3" fill="#000">120.646 120.646 120.479 120.531</text>
<g clip-path="url(#cmacd)">
<rect x="3" y="446" width="3" height="32" fill="#c0c0c0"/>
<rect x="11" y="462" width="3" height="16" fill="#c0c0c0"/>
<rect x="19" y="470" width="3" height="8" fill="#c0c0c0"/>
<rect x="27" y="478" width="3" height="1" fill="#c0c0c0"/>
<rect x="35" y="478" width="3" height="10" fill="#c0c0c0"/>
<rect x="43" y="478" width="3" height="13" fill="#c0c0c0"/>
<rect x="51" y="478" width="3" height="13" fill="#c0c0c0"/>
<rect x="59" y="478" width="3" height="12" fill="#c0c0c0"/>
<rect x="67" y="478" width="3" height="12" fill="#c0c0c0"/>
<rect x="75" y="478" width="3" height="10" fill="#c0c0c0"/>
<rect x="83" y="478" width="3" height="6" fill="#c0c0c0"/>
<rect x="91" y="478" width="3" height="4" fill="#c0c0c0"/>
<rect x="99" y="478" width="3" height="3" fill="#c0c0c0"/>
<rect x="107" y="478" width="3" height="1" fill="#c0c0c0"/>
<rect x="115" y="478" width="3" height="1" fill="#c0c0c0"/>
<rect x="123" y="475" width="3" height="3" fill="#c0c0c0"/>
<rect x="131" y="472" width="3" height="6" fill="#c0c0c0"/>
<rect x="139" y="471" width="3" height="7" fill="#c0c0c0"/>
<rect x="147" y="471" width="3" height="7" fill="#c0c0c0"/>
<rect x="155" y="471" width="3" height="7" fill="#c0c0c0"/>
<rect x="163" y="473" width="3" height="5" fill="#c0c0c0"/>
<rect x="171" y="475" width="3" height="3" fill="#c0c0c0"/>
<rect x="179" y="477" width="3" height="1" fill="#c0c0c0"/>
<rect x="187" y="476" width="3" height="2" fill="#c0c0c0"/>
<rect x="195" y="476" width="3" height="2" fill="#c0c0c0"/>
<rect x="203" y="477" width="3" height="1" fill="#c0c0c0"/>
<rect x="211" y="475" width="3" height="3" fill="#c0c0c0"/>
<rect x="219" y="474" width="3" height="4" fill="#c0c0c0"/>
<rect x="227" y="473" width="3" height="5" fill="#c0c0c0"/>
<rect x="235" y="472" width="3" height="6" fill="#c0c0c0"/>
<rect x="243" y="476" width="3" height="2" fill="#c0c0c0"/>
<rect x="251" y="474" width="3" height="4" fill="#c0c0c0"/>
<rect x="259" y="474" width="3" height="4" fill="#c0c0c0"/>
<rect x="267" y="473" width="3" height="5" fill="#c0c0c0"/>
<rect x="275" y="472" width="3" height="6" fill="#c0c0c0"/>
<rect x="283" y="471" width="3" height="7" fill="#c0c0c0"/>
<rect x="291" y="464" width="3" height="14" fill="#c0c0c0"/>
<rect x="299" y="460" width="3" height="18" fill="#c0c0c0"/>
<rect x="307" y="456" width="3" height="22" fill="#c0c0c0"/>
<rect x="315" y="453" width="3" height="25" fill="#c0c0c0"/>
<rect x="323" y="451" width="3" height="27" fill="#c0c0c0"/>
<rect x="331" y="452" width="3" height="26" fill="#c0c0c0"/>
<rect x="339" y="450" width="3" height="28" fill="#c0c0c0"/>
<rect x="347" y="448" width="3" height="30" fill="#c0c0c0"/>
<rect x="355" y="446" width="3" height="32" fill="#c0c0c0"/>
<rect x="363" y="444" width="3" height="34" fill="#c0c0c0"/>
<rect x="371" y="443" width="3" height="35" fill="#c0c0c0"/>
<rect x="379" y="442" width="3" height="36" fill="#c0c0c0"/>
<rect x="387" y="442" width="3" height="36" fill="#c0c0c0"/>
<rect x="395" y="441" width="3" height="37" fill="#c0c0c0"/>
<rect x="403" y="441" width="3" height="37" fill="#c0c0c0"/>
<rect x="411" y="439" width="3" height="39" fill="#c0c0c0"/>
<rect x="419" y="436" width="3" height="42" fill="#c0c0c0"/>
<rect x="427" y="432" width="3" height="46" fill="#c0c0c0"/>
<rect x="435" y="431" width="3" height="47" fill="#c0c0c0"/>
<rect x="443" y="434" width="3" height="44" fill="#c0c0c0"/>
<rect x="451" y="441" width="3" height="37" fill="#c0c0c0"/>
<rect x="459" y="447" width="3" height="31" fill="#c0c0c0"/>
<rect x="467" y="452" width="3" height="26" fill="#c0c0c0"/>
<rect x="475" y="453" width="3" height="25" fill="#c0c0c0"/>
<rect x="483" y="456" width="3" height="22" fill="#c0c0c0"/>
<rect x="491" y="457" width="3" height="21" fill="#c0c0c0"/>
<rect x="499" y="461" width="3" height="17" fill="#c0c0c0"/>
<rect x="507" y="468" width="3" height="10" fill="#c0c0c0"/>
<rect x="515" y="474" width="3" height="4" fill="#c0c0c0"/>
<rect x="523" y="478" width="3" height="3" fill="#c0c0c0"/>
<rect x="531" y="478" width="3" height="8" fill="#c0c0c0"/>
<rect x="539" y="478" width="3" height="2" fill="#c0c0c0"/>
<rect x="547" y="474" width="3" height="4" fill="#c0c0c0"/>
<rect x="555" y="470" width="3" height="8" fill="#c0c0c0"/>
<rect x="563" y="468" width="3" height="10" fill="#c0c0c0"/>
<rect x="571" y="469" width="3" height="9" fill="#c0c0c0"/>
<rect x="579" y="468" width="3" height="10" fill="#c0c0c0"/>
<rect x="587" y="463" width="3" height="15" fill="#c0c0c0"/>
<rect x="595" y="455" width="3" height="23" fill="#c0c0c0"/>
<rect x="603" y="450" width="3" height="28" fill="#c0c0c0"/>
<rect x="611" y="446" width="3" height="32" fill="#c0c0c0"/>
<rect x="619" y="444" width="3" height="34" fill="#c0c0c0"/>
<rect x="627" y="443" width="3" height="35" fill="#c0c0c0"/>
<rect x="635" y="444" width="3" height="34" fill="#c0c0c0"/>
<rect x="643" y="446" width="3" height="32" fill="#c0c0c0"/>
<rect x="651" y="449" width="3" height="29" fill="#c0c0c0"/>
<rect x="659" y="450" width="3" height="28" fill="#c0c0c0"/>
<rect x="667" y="450" width="3" height="28" fill="#c0c0c0"/>
<rect x="675" y="451" width="3" height="27" fill="#c0c0c0"/>
<rect x="683" y="454" width="3" height="24" fill="#c0c0c0"/>
<rect x="691" y="454" width="3" height="24" fill="#c0c0c0"/>
<rect x="699" y="453" width="3" height="25" fill="#c0c0c0"/>
<rect x="707" y="454" width="3" height="24" fill="#c0c0c0"/>
<rect x="715" y="455" width="3" height="23" fill="#c0c0c0"/>
<rect x="723" y="454" width="3" height="24" fill="#c0c0c0"/>
<rect x="731" y="454" width="3" height="24" fill="#c0c0c0"/>
<rect x="739" y="450" width="3" height="28" fill="#c0c0c0"/>
<rect x="747" y="446" width="3" height="32" fill="#c0c0c0"/>
<rect x="755" y="445" width="3" height="33" fill="#c0c0c0"/>
<rect x="763" y="444" width="3" height="34" fill="#c0c0c0"/>
<rect x="771" y="444" width="3" height="34" fill="#c0c0c0"/>
<rect x="779" y="445" width="3" height="33" fill="#c0c0c0"/>
<rect x="787" y="446" width="3" height="32" fill="#c0c0c0"/>
<rect x="795" y="448" width="3" height="30" fill="#c0c0c0"/>
<rect x="803" y="450" width="3" height="28" fill="#c0c0c0"/>
<rect x="811" y="453" width="3" height="25" fill="#c0c0c0"/>
<rect x="819" y="456" width="3" height="22" fill="#c0c0c0"/>
<rect x="827" y="455" width="3" height="23" fill="#c0c0c0"/>
<rect x="835" y="460" width="3" height="18" fill="#c0c0c0"/>
<rect x="843" y="463" width="3" height="15" fill="#c0c0c0"/>
<rect x="851" y="465" width="3" height="13" fill="#c0c0c0"/>
<rect x="859" y="471" width="3" height="7" fill="#c0c0c0"/>
<rect x="867" y="475" width="3" height="3" fill="#c0c0c0"/>
<rect x="875" y="478" width="3" height="1" fill="#c0c0c0"/>
<rect x="883" y="478" width="3" height="4" fill="#c0c0c0"/>
<rect x="891" y="478" width="3" height="1" fill="#c0c0c0"/>
<rect x="899" y="476" width="3" height="2" fill="#c0c0c0"/>
<rect x="907" y="475" width="3" height="3" fill="#c0c0c0"/>
<rect x="915" y="475" width="3" height="3" fill="#c0c0c0"/>
</g>
<path d="M4 427h1v1h-1zM5 428h1v1h-1zM6 429h1v1h-1zM7 429h1v1h-1zM8 430h1v1h-1zM9 431h1v1h-1zM10 432h1v1h-1zM11 432h1v1h-1zM12 433h1v1h-1zM13 434h1v1h-1zM14 435h1v1h-1zM15 435h1v1h-1zM16 436h1v1h-1zM17 437h1v1h-1zM18 438h1v1h-1zM19 438h1v1h-1zM20 439h1v1h-1zM21 440h1v1h-1zM22 441h1v1h-1zM23 441h1v1h-1zM24 442h1v1h-1zM25 443h1v1h-1zM26 444h1v1h-1zM27 444h1v1h-1zM28 445h1v1h-1zM29 446h1v1h-1zM30 447h1v1h-1zM31 447h1v1h-1zM32 448h1v1h-1zM33 449h1v1h-1zM34 450h1v1h-1zM35 450h1v1h-1zM36 451h1v1h-1zM37 452h1v1h-1zM38 453h1v1h-1zM39 453h1v1h-1zM40 454h1v1h-1zM41 455h1v1h-1zM42 456h1v1h-1zM43 456h1v1h-1zM44 457h1v1h-1zM45 458h1v1h-1zM46 459h1v1h-1zM47 460h1v1h-1zM48 461h1v1h-1zM49 461h1v1h-1zM50 462h1v1h-1zM51 463h1v1h-1zM52 464h1v1h-1zM53 465h1v1h-1zM54 466h1v1h-1zM55 467h1v1h-1zM56 468h1v1h-1zM57 468h1v1h-1zM58 469h1v1h-1zM59 470h1v1h-1zM60 471h1v1h-1zM61 472h1v1h-1zM62 473h1v1h-1zM63 474h1v1h-1zM64 475h1v1h-1zM65 475h1v1h-1zM66 476h1v1h-1zM67 477h1v1h-1zM68 478h1v1h-1zM69 479h1v1h-1zM70 479h1v1h-1zM71 480h1v1h-1zM72 481h1v1h-1zM73 481h1v1h-1zM74 482h1v1h-1zM75 482h1v1h-1zM76 483h1v1h-1zM77 483h1v1h-1zM78 484h1v1h-1zM79 484h1v1h-1zM80 484h1v1h-1zM81 484h1v1h-1zM82 485h1v1h-1zM83 485h1v1h-1zM84 485h1v1h-1zM85 485h1v1h-1zM86 486h1v1h-1zM87 486h1v1h-1zM88 486h1v1h-1zM89 486h1v1h-1zM90 487h1v1h-1zM91 487h1v1h-1zM92 487h1v1h-1zM93 487h1v1h-1zM94 487h1v1h-1zM95 487h1v1h-1zM96 487h1v1h-1zM97 487h1v1h-1zM98 487h1v1h-1zM99 487h1v1h-1zM100 487h1v1h-1zM101 487h1v1h-1zM102 487h1v1h-1zM103 487h1v1h-1zM104 486h1v1h-1zM105 486h1v1h-1zM106 486h1v1h-1zM107 486h1v1h-1zM108 486h1v1h-1zM109 486h1v1h-1zM110 486h1v1h-1zM111 486h1v1h-1zM112 485h1v1h-1zM113 485h1v1h-1zM114 485h1v1h-1zM115 485h1v1h-1zM116 485h1v1h-1zM117 485h1v1h-1zM118 484h1v1h-1zM119 484h1v1h-1zM120 484h1v1h-1zM121 484h1v1h-1zM122 483h1v1h-1zM123 483h1v1h-1zM124 483h1v1h-1zM125 483h1v1h-1zM126 483h1v1h-1zM127 483h1v1h-1zM128 482h1v1h-1zM129 482h1v1h-1zM130 482h1v1h-1zM131 482h1v1h-1zM132 482h1v1h-1zM133 482h1v1h-1zM134 481h1v1h-1zM135 481h1v1h-1zM136 481h1v1h-1zM137 481h1v1h-1zM138 480h1v1h-1zM139 480h1v1h-1zM140 480h1v1h-1zM141 480h1v1h-1zM142 479h1v1h-1zM143 479h1v1h-1zM144 479h1v1h-1zM145 479h1v1h-1zM146 478h1v1h-1zM147 478h1v1h-1zM148 478h1v1h-1zM149 478h1v1h-1zM150 477h1v1h-1zM151 477h1v1h-1zM152 477h1v1h-1zM153 477h1v1h-1zM154 476h1v1h-1zM155 476h1v1h-1zM156 476h1v1h-1zM157 476h1v1h-1zM158 476h1v1h-1zM159 476h1v1h-1zM160 475h1v1h-1zM161 475h1v1h-1zM162 475h1v1h-1zM163 475h1v1h-1zM164 475h1v1h-1zM165 475h1v1h-1zM166 475h1v1h-1zM167 475h1v1h-1zM168 475h1v1h-1zM169 475h1v1h-1zM170 475h1v1h-1zM171 475h1v1h-1zM172 475h1v1h-1zM173 475h1v1h-1zM174 475h1v1h-1zM175 475h1v1h-1zM176 474h1v1h-1zM177 474h1v1h-1zM178 474h1v1h-1zM179 474h1v1h-1zM180 474h1v1h-1zM181 474h1v1h-1zM182 474h1v1h-1zM183 474h1v1h-1zM184 473h1v1h-1zM185 473h1v1h-1zM186 473h1v1h-1zM187 473h1v1h-1zM188 473h1v1h-1zM189 473h1v1h-1zM190 473h1v1h-1zM191 473h1v1h-1zM192 474h1v1h-1zM193 474h1v1h-1zM194 474h1v1h-1zM195 474h1v1h-1zM196 474h1v1h-1zM197 474h1v1h-1zM198 474h1v1h-1zM199 474h1v1h-1zM200 474h1v1h-1zM201 474h1v1h-1zM202 474h1v1h-1zM203 474h1v1h-1zM204 474h1v1h-1zM205 474h1v1h-1zM206 474h1v1h-1zM207 474h1v1h-1zM208 475h1v1h-1zM209 475h1v1h-1zM210 475h1v1h-1zM211 475h1v1h-1zM212 475h1v1h-1zM213 475h1v1h-1zM214 475h1v1h-1zM215 475h1v1h-1zM216 475h1v1h-1zM217 475h1v1h-1zM218 475h1v1h-1zM219 475h1v1h-1zM220 475h1v1h-1zM221 475h1v1h-1zM222 475h1v1h-1zM223 475h1v1h-1zM224 475h1v1h-1zM225 475h1v1h-1zM226 475h1v1h-1zM227 475h1v1h-1zM228 475h1v1h-1zM229 475h1v1h-1zM230 475h1v1h-1zM231 475h1v1h-1zM232 475h1v1h-1zM233 475h1v1h-1zM234 475h1v1h-1zM235 475h1v1h-1zM236 475h1v1h-1zM237 475h1v1h-1zM238 475h1v1h-1zM239 475h1v1h-1zM240 475h1v1h-1zM241 475h1v1h-1zM242 475h1v1h-1zM243 475h1v1h-1zM244 475h1v1h-1zM245 475h1v1h-1zM246 475h1v1h-1zM247 475h1v1h-1zM248 475h1v1h-1zM249 475h1v1h-1zM250 475h1v1h-1zM251 475h1v1h-1zM252 475h1v1h-1zM253 475h1v1h-1zM254 475h1v1h-1zM255 475h1v1h-1zM256 475h1v1h-1zM257 475h1v1h-1zM258 475h1v1h-1zM259 475h1v1h-1zM260 475h1v1h-1zM261 475h1v1h-1zM262 475h1v1h-1zM263 475h1v1h-1zM264 474h1v1h-1zM265 474h1v1h-1zM266 474h1v1h-1zM267 474h1v1h-1zM268 474h1v1h-1zM269 474h1v1h-1zM270 474h1v1h-1zM271 474h1v1h-1zM272 474h1v1h-1zM273 474h1v1h-1zM274 474h1v1h-1zM275 474h1v1h-1zM276 474h1v1h-1zM277 474h1v1h-1zM278 474h1v1h-1zM279 474h1v1h-1zM280 473h1v1h-1zM281 473h1v1h-1zM282 473h1v1h-1zM283 473h1v1h-1zM284 473h1v1h-1zM285 473h1v1h-1zM286 473h1v1h-1zM287 473h1v1h-1zM288 472h1v1h-1zM289 472h1v1h-1zM290 472h1v1h-1zM291 472h1v1h-1zM292 472h1v1h-1zM293 472h1v1h-1zM294 472h1v1h-1zM295 472h1v1h-1zM296 471h1v1h-1zM297 471h1v1h-1zM298 471h1v1h-1zM299 471h1v1h-1zM300 471h1v1h-1zM301 471h1v1h-1zM302 470h1v1h-1zM303 470h1v1h-1zM304 470h1v1h-1zM305 470h1v1h-1zM306 469h1v1h-1zM307 469h1v1h-1zM308 469h1v1h-1zM309 469h1v1h-1zM310 468h1v1h-1zM311 468h1v1h-1zM312 467h1v1h-1zM313 467h1v1h-1zM314 467h1v1h-1zM315 466h1v1h-1zM316 466h1v1h-1zM317 466h1v1h-1zM318 465h1v1h-1zM319 465h1v1h-1zM320 465h1v1h-1zM321 465h1v1h-1zM322 464h1v1h-1zM323 464h1v1h-1zM324 464h1v1h-1zM325 464h1v1h-1zM326 463h1v1h-1zM327 463h1v1h-1zM328 462h1v1h-1zM329 462h1v1h-1zM330 462h1v1h-1zM331 461h1v1h-1zM332 461h1v1h-1zM333 461h1v1h-1zM334 460h1v1h-1zM335 460h1v1h-1zM336 460h1v1h-1zM337 460h1v1h-1zM338 459h1v1h-1zM339 459h1v1h-1zM340 459h1v1h-1zM341 459h1v1h-1zM342 458h1v1h-1zM343 458h1v1h-1zM344 457h1v1h-1zM345 457h1v1h-1zM346 457h1v1h-1zM347 456h1v1h-1zM348 456h1v1h-1zM349 456h1v1h-1zM350 455h1v1h-1zM351 455h1v1h-1zM352 454h1v1h-1zM353 454h1v1h-1zM354 454h1v1h-1zM355 453h1v1h-1zM356 453h1v1h-1zM357 453h1v1h-1zM358 452h1v1h-1zM359 452h1v1h-1zM360 452h1v1h-1zM361 452h1v1h-1zM362 451h1v1h-1zM363 451h1v1h-1zM364 451h1v1h-1zM365 451h1v1h-1zM366 450h1v1h-1zM367 450h1v1h-1zM368 450h1v1h-1zM369 450h1v1h-1zM370 449h1v1h-1zM371 449h1v1h-1zM372 449h1v1h-1zM373 449h1v1h-1zM374 448h1v1h-1zM375 448h1v1h-1zM376 448h1v1h-1zM377 448h1v1h-1zM378 447h1v1h-1zM379 447h1v1h-1zM380 447h1v1h-1zM381 447h1v1h-1zM382 447h1v1h-1zM383 447h1v1h-1zM384 446h1v1h-1zM385 446h1v1h-1zM386 446h1v1h-1zM387 446h1v1h-1zM388 446h1v1h-1zM389 446h1v1h-1zM390 446h1v1h-1zM391 446h1v1h-1zM392 445h1v1h-1zM393 445h1v1h-1zM394 445h1v1h-1zM395 445h1v1h-1zM396 445h1v1h-1zM397 445h1v1h-1zM398 445h1v1h-1zM399 445h1v1h-1zM400 444h1v1h-1zM401 444h1v1h-1zM402 444h1v1h-1zM403 444h1v1h-1zM404 444h1v1h-1zM405 444h1v1h-1zM406 444h1v1h-1zM407 444h1v1h-1zM408 443h1v1h-1zM409 443h1v1h-1zM410 443h1v1h-1zM411 443h1v1h-1zM412 443h1v1h-1zM413 443h1v1h-1zM414 443h1v1h-1zM415 443h1v1h-1zM416 442h1v1h-1zM417 442h1v1h-1zM418 442h1v1h-1zM419 442h1v1h-1zM420 442h1v1h-1zM421 442h1v1h-1zM422 441h1v1h-1zM423 441h1v1h-1zM424 441h1v1h-1zM425 441h1v1h-1zM426 440h1v1h-1zM427 440h1v1h-1zM428 440h1v1h-1zM429 440h1v1h-1zM430 439h1v1h-1zM431 439h1v1h-1zM432 439h1v1h-1zM433 439h1v1h-1zM434 438h1v1h-1zM435 438h1v1h-1zM436 438h1v1h-1zM437 438h1v1h-1zM438 438h1v1h-1zM439 438h1v1h-1zM440 438h1v1h-1zM441 438h1v1h-1zM442 438h1v1h-1zM443 438h1v1h-1zM444 438h1v1h-1zM445 438h1v1h-1zM446 438h1v1h-1zM447 438h1v1h-1zM448 437h1v1h-1zM449 437h1v1h-1zM450 437h1v1h-1zM451 437h1v1h-1zM452 437h1v1h-1zM453 437h1v1h-1zM454 437h1v1h-1zM455 437h1v1h-1zM456 438h1v1h-1zM457 438h1v1h-1zM458 438h1v1h-1zM459 438h1v1h-1zM460 438h1v1h-1zM461 438h1v1h-1zM462 438h1v1h-1zM463 438h1v1h-1zM464 439h1v1h-1zM465 439h1v1h-1zM466 439h1v1h-1zM467 439h1v1h-1zM468 439h1v1h-1zM469 439h1v1h-1zM470 439h1v1h-1zM471 439h1v1h-1zM472 440h1v1h-1zM473 440h1v1h-1zM474 440h1v1h-1zM475 440h1v1h-1zM476 440h1v1h-1zM477 440h1v1h-1zM478 441h1v1h-1zM479 441h1v1h-1zM480 441h1v1h-1zM481 441h1v1h-1zM482 442h1v1h-1zM483 442h1v1h-1zM484 442h1v1h-1zM485 442h1v1h-1zM486 443h1v1h-1zM487 443h1v1h-1zM488 444h1v1h-1zM489 444h1v1h-1zM490 444h1v1h-1zM491 445h1v1h-1zM492 445h1v1h-1zM493 445h1v1h-1zM494 446h1v1h-1zM495 446h1v1h-1zM496 447h1v1h-1zM497 447h1v1h-1zM498 447h1v1h-1zM499 448h1v1h-1zM500 448h1v1h-1zM501 449h1v1h-1zM502 449h1v1h-1zM503 450h1v1h-1zM504 450h1v1h-1zM505 451h1v1h-1zM506 451h1v1h-1zM507 452h1v1h-1zM508 452h1v1h-1zM509 453h1v1h-1zM510 453h1v1h-1zM511 454h1v1h-1zM512 455h1v1h-1zM513 455h1v1h-1zM514 456h1v1h-1zM515 456h1v1h-1zM516 457h1v1h-1zM517 458h1v1h-1zM518 458h1v1h-1zM519 459h1v1h-1zM520 459h1v1h-1zM521 460h1v1h-1zM522 460h1v1h-1zM523 461h1v1h-1zM524 461h1v1h-1zM525 462h1v1h-1zM526 462h1v1h-1zM527 463h1v1h-1zM528 463h1v1h-1zM529 464h1v1h-1zM530 464h1v1h-1zM531 465h1v1h-1zM532 465h1v1h-1zM533 466h1v1h-1zM534 466h1v1h-1zM535 467h1v1h-1zM536 467h1v1h-1zM537 468h1v1h-1zM538 468h1v1h-1zM539 469h1v1h-1zM540 469h1v1h-1zM541 469h1v1h-1zM542 470h1v1h-1zM543 470h1v1h-1zM544 470h1v1h-1zM545 470h1v1h-1zM546 471h1v1h-1zM547 471h1v1h-1zM548 471h1v1h-1zM549 471h1v1h-1zM550 471h1v1h-1zM551 471h1v1h-1zM552 472h1v1h-1zM553 472h1v1h-1zM554 472h1v1h-1zM555 472h1v1h-1zM556 472h1v1h-1zM557 472h1v1h-1zM558 473h1v1h-1zM559 473h1v1h-1zM560 473h1v1h-1zM561 473h1v1h-1zM562 474h1v1h-1zM563 474h1v1h-1zM564 474h1v1h-1zM565 474h1v1h-1zM566 474h1v1h-1zM567 474h1v1h-1zM568 475h1v1h-1zM569 475h1v1h-1zM570 475h1v1h-1zM571 475h1v1h-1zM572 475h1v1h-1zM573 475h1v1h-1zM574 475h1v1h-1zM575 475h1v1h-1zM576 474h1v1h-1zM577 474h1v1h-1zM578 474h1v1h-1zM579 474h1v1h-1zM580 474h1v1h-1zM581 474h1v1h-1zM582 474h1v1h-1zM583 474h1v1h-1zM584 473h1v1h-1zM585 473h1v1h-1zM586 473h1v1h-1zM587 473h1v1h-1zM588 473h1v1h-1zM589 473h1v1h-1zM590 472h1v1h-1zM591 472h1v1h-1zM592 471h1v1h-1zM593 471h1v1h-1zM594 471h1v1h-1zM595 470h1v1h-1zM596 470h1v1h-1zM597 469h1v1h-1zM598 469h1v1h-1zM599 468h1v1h-1zM600 468h1v1h-1zM601 467h1v1h-1zM602 467h1v1h-1zM603 466h1v1h-1zM604 466h1v1h-1zM605 465h1v1h-1zM606 465h1v1h-1zM607 464h1v1h-1zM608 464h1v1h-1zM609 463h1v1h-1zM610 463h1v1h-1zM611 462h1v1h-1zM612 462h1v1h-1zM613 462h1v1h-1zM614 461h1v1h-1zM615 461h1v1h-1zM616 460h1v1h-1zM617 460h1v1h-1zM618 460h1v1h-1zM619 459h1v1h-1zM620 459h1v1h-1zM621 459h1v1h-1zM622 458h1v1h-1zM623 458h1v1h-1zM624 457h1v1h-1zM625 457h1v1h-1zM626 457h1v1h-1zM627 456h1v1h-1zM628 456h1v1h-1zM629 456h1v1h-1zM630 455h1v1h-1zM631 455h1v1h-1zM632 455h1v1h-1zM633 455h1v1h-1zM634 454h1v1h-1zM635 454h1v1h-1zM636 454h1v1h-1zM637 454h1v1h-1zM638 453h1v1h-1zM639 453h1v1h-1zM640 452h1v1h-1zM641 452h1v1h-1zM642 452h1v1h-1zM643 451h1v1h-1zM644 451h1v1h-1zM645 451h1v1h-1zM646 450h1v1h-1zM647 450h1v1h-1zM648 450h1v1h-1zM649 450h1v1h-1zM650 449h1v1h-1zM651 449h1v1h-1zM652 449h1v1h-1zM653 449h1v1h-1zM654 449h1v1h-1zM655 449h1v1h-1zM656 448h1v1h-1zM657 448h1v1h-1zM658 448h1v1h-1zM659 448h1v1h-1zM660 448h1v1h-1zM661 448h1v1h-1zM662 448h1v1h-1zM663 448h1v1h-1zM664 447h1v1h-1zM665 447h1v1h-1zM666 447h1v1h-1zM667 447h1v1h-1zM668 447h1v1h-1zM669 447h1v1h-1zM670 447h1v1h-1zM671 447h1v1h-1zM672 447h1v1h-1zM673 447h1v1h-1zM674 447h1v1h-1zM675 447h1v1h-1zM676 447h1v1h-1zM677 447h1v1h-1zM678 447h1v1h-1zM679 447h1v1h-1zM680 448h1v1h-1zM681 448h1v1h-1zM682 448h1v1h-1zM683 448h1v1h-1zM684 448h1v1h-1zM685 448h1v1h-1zM686 448h1v1h-1zM687 448h1v1h-1zM688 449h1v1h-1zM689 449h1v1h-1zM690 449h1v1h-1zM691 449h1v1h-1zM692 449h1v1h-1zM693 449h1v1h-1zM694 449h1v1h-1zM695 449h1v1h-1zM696 450h1v1h-1zM697 450h1v1h-1zM698 450h1v1h-1zM699 450h1v1h-1zM700 450h1v1h-1zM701 450h1v1h-1zM702 451h1v1h-1zM703 451h1v1h-1zM704 451h1v1h-1zM705 451h1v1h-1zM706 452h1v1h-1zM707 452h1v1h-1zM708 452h1v1h-1zM709 452h1v1h-1zM710 452h1v1h-1zM711 452h1v1h-1zM712 453h1v1h-1zM713 453h1v1h-1zM714 453h1v1h-1zM715 453h1v1h-1zM716 453h1v1h-1zM717 453h1v1h-1zM718 453h1v1h-1zM719 453h1v1h-1zM720 453h1v1h-1zM721 453h1v1h-1zM722 453h1v1h-1zM723 453h1v1h-1zM724 453h1v1h-1zM725 453h1v1h-1zM726 453h1v1h-1zM727 453h1v1h-1zM728 453h1v1h-1zM729 453h1v1h-1zM730 453h1v1h-1zM731 453h1v1h-1zM732 453h1v1h-1zM733 453h1v1h-1zM734 453h1v1h-1zM735 453h1v1h-1zM736 453h1v1h-1zM737 453h1v1h-1zM738 453h1v1h-1zM739 453h1v1h-1zM740 453h1v1h-1zM741 453h1v1h-1zM742 453h1v1h-1zM743 453h1v1h-1zM744 453h1v1h-1zM745 453h1v1h-1zM746 453h1v1h-1zM747 453h1v1h-1zM748 453h1v1h-1zM749 453h1v1h-1zM750 453h1v1h-1zM751 453h1v1h-1zM752 452h1v1h-1zM753 452h1v1h-1zM754 452h1v1h-1zM755 452h1v1h-1zM756 452h1v1h-1zM757 452h1v1h-1zM758 452h1v1h-1zM759 452h1v1h-1zM760 451h1v1h-1zM761 451h1v1h-1zM762 451h1v1h-1zM763 451h1v1h-1zM764 451h1v1h-1zM765 451h1v1h-1zM766 451h1v1h-1zM767 451h1v1h-1zM768 450h1v1h-1zM769 450h1v1h-1zM770 450h1v1h-1zM771 450h1v1h-1zM772 450h1v1h-1zM773 450h1v1h-1zM774 450h1v1h-1zM775 450h1v1h-1zM776 449h1v1h-1zM777 449h1v1h-1zM778 449h1v1h-1zM779 449h1v1h-1zM780 449h1v1h-1zM781 449h1v1h-1zM782 449h1v1h-1zM783 449h1v1h-1zM784 448h1v1h-1zM785 448h1v1h-1zM786 448h1v1h-1zM787 448h1v1h-1zM788 448h1v1h-1zM789 448h1v1h-1zM790 448h1v1h-1zM791 448h1v1h-1zM792 447h1v1h-1zM793 447h1v1h-1zM794 447h1v1h-1zM795 447h1v1h-1zM796 447h1v1h-1zM797 447h1v1h-1zM798 447h1v1h-1zM799 447h1v1h-1zM800 447h1v1h-1zM801 447h1v1h-1zM802 447h1v1h-1zM803 447h1v1h-1zM804 447h1v1h-1zM805 447h1v1h-1zM806 447h1v1h-1zM807 447h1v1h-1zM808 447h1v1h-1zM809 447h1v1h-1zM810 447h1v1h-1zM811 447h1v1h-1zM812 447h1v1h-1zM813 447h1v1h-1zM814 447h1v1h-1zM815 447h1v1h-1zM816 448h1v1h-1zM817 448h1v1h-1zM818 448h1v1h-1zM819 448h1v1h-1zM820 448h1v1h-1zM821 448h1v1h-1zM822 448h1v1h-1zM823 448h1v1h-1zM824 449h1v1h-1zM825 449h1v1h-1zM826 449h1v1h-1zM827 449h1v1h-1zM828 449h1v1h-1zM829 449h1v1h-1zM830 450h1v1h-1zM831 450h1v1h-1zM832 450h1v1h-1zM833 450h1v1h-1zM834 451h1v1h-1zM835 451h1v1h-1zM836 451h1v1h-1zM837 451h1v1h-1zM838 452h1v1h-1zM839 452h1v1h-1zM840 452h1v1h-1zM841 452h1v1h-1zM842 453h1v1h-1zM843 453h1v1h-1zM844 453h1v1h-1zM845 453h1v1h-1zM846 454h1v1h-1zM847 454h1v1h-1zM848 454h1v1h-1zM849 454h1v1h-1zM850 455h1v1h-1zM851 455h1v1h-1zM852 455h1v1h-1zM853 456h1v1h-1zM854 456h1v1h-1zM855 457h1v1h-1zM856 457h1v1h-1zM857 458h1v1h-1zM858 458h1v1h-1zM859 459h1v1h-1zM860 459h1v1h-1zM861 459h1v1h-1zM862 460h1v1h-1zM863 460h1v1h-1zM864 461h1v1h-1zM865 461h1v1h-1zM866 461h1v1h-1zM867 462h1v1h-1zM868 462h1v1h-1zM869 462h1v1h-1zM870 463h1v1h-1zM871 463h1v1h-1zM872 464h1v1h-1zM873 464h1v1h-1zM874 464h1v1h-1zM875 465h1v1h-1zM876 465h1v1h-1zM877 465h1v1h-1zM878 466h1v1h-1zM879 466h1v1h-1zM880 467h1v1h-1zM881 467h1v1h-1zM882 467h1v1h-1zM883 468h1v1h-1zM884 468h1v1h-1zM885 468h1v1h-1zM886 469h1v1h-1zM887 469h1v1h-1zM888 469h1v1h-1zM889 469h1v1h-1zM890 470h1v1h-1zM891 470h1v1h-1zM892 470h1v1h-1zM893 470h1v1h-1zM894 471h1v1h-1zM895 471h1v1h-1zM896 471h1v1h-1zM897 471h1v1h-1zM898 472h1v1h-1zM899 472h1v1h-1zM900 472h1v1h-1zM901 472h1v1h-1zM902 473h1v1h-1zM903 473h1v1h-1zM904 473h1v1h-1zM905 473h1v1h-1zM906 474h1v1h-1zM907 474h1v1h-1zM908 474h1v1h-1zM909 474h1v1h-1zM910 475h1v1h-1zM911 475h1v1h-1zM912 475h1v1h-1zM913 475h1v1h-1zM914 476h1v1h-1zM915 476h1v1h-1zM916 476h1v1h-1z" fill="#ff0000"/>
<text x="8" y="435" font-size="9.3" fill="#000">MACD(12,26,9) 0.1265 0.1172</text>
<rect x="1167" y="424" width="1" height="1" fill="#000"/>
<rect x="1167" y="478" width="1" height="1" fill="#000"/>
<rect x="1167" y="493" width="1" height="1" fill="#000"/>
<text x="1170" y="433" font-size="9.3" fill="#000">2.078</text>
<text x="1170" y="482" font-size="9.3" fill="#000">0.00</text>
<text x="1170" y="491" font-size="9.3" fill="#000">-0.596</text>
<line x1="5" y1="519.5" x2="1166" y2="519.5" stroke="#c0c0c0" stroke-width="1" stroke-dasharray="3,3"/>
<line x1="5" y1="548.5" x2="1166" y2="548.5" stroke="#c0c0c0" stroke-width="1" stroke-dasharray="3,3"/>
<path d="M4 536h1v1h-1zM5 537h1v1h-1zM6 538h1v1h-1zM7 539h1v1h-1zM8 540h1v1h-1zM9 540h1v1h-1zM10 541h1v1h-1zM11 542h1v1h-1zM12 543h1v1h-1zM13 542h1v1h-1zM14 542h1v1h-1zM15 541h1v1h-1zM16 541h1v1h-1zM17 540h1v1h-1zM18 540h1v1h-1zM19 539h1v1h-1zM20 539h1v1h-1zM21 539h1v1h-1zM22 539h1v1h-1zM23 539h1v1h-1zM24 539h1v1h-1zM25 539h1v1h-1zM26 539h1v1h-1zM27 539h1v1h-1zM28 539h1v1h-1zM29 539h1v1h-1zM30 540h1v1h-1zM31 540h1v1h-1zM32 541h1v1h-1zM33 541h1v1h-1zM34 541h1v1h-1zM35 542h1v1h-1zM36 542h1v1h-1zM37 541h1v1h-1zM38 541h1v1h-1zM39 540h1v1h-1zM40 540h1v1h-1zM41 539h1v1h-1zM42 539h1v1h-1zM43 538h1v1h-1zM44 538h1v1h-1zM45 538h1v1h-1zM46 537h1v1h-1zM47 537h1v1h-1zM48 536h1v1h-1zM49 536h1v1h-1zM50 536h1v1h-1zM51 535h1v1h-1zM52 535h1v1h-1zM53 535h1v1h-1zM54 535h1v1h-1zM55 535h1v1h-1zM56 534h1v1h-1zM57 534h1v1h-1zM58 534h1v1h-1zM59 534h1v1h-1zM60 534h1v1h-1zM61 534h1v1h-1zM62 535h1v1h-1zM63 535h1v1h-1zM64 535h1v1h-1zM65 535h1v1h-1zM66 536h1v1h-1zM67 536h1v1h-1zM68 536h1v1h-1zM69 536h1v1h-1zM70 535h1v1h-1zM71 535h1v1h-1zM72 535h1v1h-1zM73 535h1v1h-1zM74 534h1v1h-1zM75 534h1v1h-1zM76 534h1v1h-1zM77 534h1v1h-1zM78 533h1v1h-1zM79 533h1v1h-1zM80 533h1v1h-1zM81 533h1v1h-1zM82 532h1v1h-1zM83 532h1v1h-1zM84 532h1v1h-1zM85 532h1v1h-1zM86 532h1v1h-1zM87 532h1v1h-1zM88 532h1v1h-1zM89 532h1v1h-1zM90 532h1v1h-1zM91 532h1v1h-1zM92 532h1v1h-1zM93 532h1v1h-1zM94 532h1v1h-1zM95 532h1v1h-1zM96 532h1v1h-1zM97 532h1v1h-1zM98 532h1v1h-1zM99 532h1v1h-1zM100 532h1v1h-1zM101 532h1v1h-1zM102 532h1v1h-1zM103 532h1v1h-1zM104 532h1v1h-1zM105 532h1v1h-1zM106 532h1v1h-1zM107 532h1v1h-1zM108 532h1v1h-1zM109 532h1v1h-1zM110 532h1v1h-1zM111 532h1v1h-1zM112 532h1v1h-1zM113 532h1v1h-1zM114 532h1v1h-1zM115 532h1v1h-1zM116 532h1v1h-1zM117 532h1v1h-1zM118 532h1v1h-1zM119 532h1v1h-1zM120 532h1v1h-1zM121 532h1v1h-1zM122 532h1v1h-1zM123 532h1v1h-1zM124 532h1v1h-1zM125 532h1v1h-1zM126 531h1v1h-1zM127 531h1v1h-1zM128 531h1v1h-1zM129 531h1v1h-1zM130 530h1v1h-1zM131 530h1v1h-1zM132 530h1v1h-1zM133 530h1v1h-1zM134 531h1v1h-1zM135 531h1v1h-1zM136 531h1v1h-1zM137 531h1v1h-1zM138 532h1v1h-1zM139 532h1v1h-1zM140 532h1v1h-1zM141 532h1v1h-1zM142 532h1v1h-1zM143 532h1v1h-1zM144 533h1v1h-1zM145 533h1v1h-1zM146 533h1v1h-1zM147 533h1v1h-1zM148 533h1v1h-1zM149 533h1v1h-1zM150 533h1v1h-1zM151 533h1v1h-1zM152 533h1v1h-1zM153 533h1v1h-1zM154 533h1v1h-1zM155 533h1v1h-1zM156 533h1v1h-1zM157 533h1v1h-1zM158 534h1v1h-1zM159 534h1v1h-1zM160 534h1v1h-1zM161 534h1v1h-1zM162 535h1v1h-1zM163 535h1v1h-1zM164 535h1v1h-1zM165 535h1v1h-1zM166 535h1v1h-1zM167 535h1v1h-1zM168 536h1v1h-1zM169 536h1v1h-1zM170 536h1v1h-1zM171 536h1v1h-1zM172 536h1v1h-1zM173 536h1v1h-1zM174 536h1v1h-1zM175 536h1v1h-1zM176 536h1v1h-1zM177 536h1v1h-1zM178 536h1v1h-1zM179 536h1v1h-1zM180 536h1v1h-1zM181 536h1v1h-1zM182 535h1v1h-1zM183 535h1v1h-1zM184 534h1v1h-1zM185 534h1v1h-1zM186 534h1v1h-1zM187 533h1v1h-1zM188 533h1v1h-1zM189 533h1v1h-1zM190 533h1v1h-1zM191 533h1v1h-1zM192 534h1v1h-1zM193 534h1v1h-1zM194 534h1v1h-1zM195 534h1v1h-1zM196 534h1v1h-1zM197 534h1v1h-1zM198 534h1v1h-1zM199 534h1v1h-1zM200 534h1v1h-1zM201 534h1v1h-1zM202 534h1v1h-1zM203 534h1v1h-1zM204 534h1v1h-1zM205 534h1v1h-1zM206 533h1v1h-1zM207 533h1v1h-1zM208 533h1v1h-1zM209 533h1v1h-1zM210 532h1v1h-1zM211 532h1v1h-1zM212 532h1v1h-1zM213 532h1v1h-1zM214 531h1v1h-1zM215 531h1v1h-1zM216 531h1v1h-1zM217 531h1v1h-1zM218 530h1v1h-1zM219 530h1v1h-1zM220 530h1v1h-1zM221 530h1v1h-1zM222 531h1v1h-1zM223 531h1v1h-1zM224 531h1v1h-1zM225 531h1v1h-1zM226 532h1v1h-1zM227 532h1v1h-1zM228 532h1v1h-1zM229 532h1v1h-1zM230 532h1v1h-1zM231 532h1v1h-1zM232 531h1v1h-1zM233 531h1v1h-1zM234 531h1v1h-1zM235 531h1v1h-1zM236 531h1v1h-1zM237 532h1v1h-1zM238 533h1v1h-1zM239 533h1v1h-1zM240 534h1v1h-1zM241 535h1v1h-1zM242 536h1v1h-1zM243 536h1v1h-1zM244 537h1v1h-1zM245 536h1v1h-1zM246 536h1v1h-1zM247 535h1v1h-1zM248 535h1v1h-1zM249 534h1v1h-1zM250 534h1v1h-1zM251 533h1v1h-1zM252 533h1v1h-1zM253 533h1v1h-1zM254 533h1v1h-1zM255 533h1v1h-1zM256 533h1v1h-1zM257 533h1v1h-1zM258 533h1v1h-1zM259 533h1v1h-1zM260 533h1v1h-1zM261 533h1v1h-1zM262 533h1v1h-1zM263 533h1v1h-1zM264 532h1v1h-1zM265 532h1v1h-1zM266 532h1v1h-1zM267 532h1v1h-1zM268 532h1v1h-1zM269 532h1v1h-1zM270 532h1v1h-1zM271 532h1v1h-1zM272 531h1v1h-1zM273 531h1v1h-1zM274 531h1v1h-1zM275 531h1v1h-1zM276 531h1v1h-1zM277 531h1v1h-1zM278 531h1v1h-1zM279 531h1v1h-1zM280 530h1v1h-1zM281 530h1v1h-1zM282 530h1v1h-1zM283 530h1v1h-1zM284 530h1v1h-1zM285 529h1v1h-1zM286 528h1v1h-1zM287 527h1v1h-1zM288 526h1v1h-1zM289 526h1v1h-1zM290 525h1v1h-1zM291 524h1v1h-1zM292 523h1v1h-1zM293 523h1v1h-1zM294 523h1v1h-1zM295 523h1v1h-1zM296 523h1v1h-1zM297 523h1v1h-1zM298 523h1v1h-1zM299 523h1v1h-1zM300 523h1v1h-1zM301 523h1v1h-1zM302 523h1v1h-1zM303 523h1v1h-1zM304 523h1v1h-1zM305 523h1v1h-1zM306 523h1v1h-1zM307 523h1v1h-1zM308 523h1v1h-1zM309 523h1v1h-1zM310 523h1v1h-1zM311 523h1v1h-1zM312 522h1v1h-1zM313 522h1v1h-1zM314 522h1v1h-1zM315 522h1v1h-1zM316 522h1v1h-1zM317 522h1v1h-1zM318 522h1v1h-1zM319 522h1v1h-1zM320 522h1v1h-1zM321 522h1v1h-1zM322 522h1v1h-1zM323 522h1v1h-1zM324 522h1v1h-1zM325 523h1v1h-1zM326 523h1v1h-1zM327 524h1v1h-1zM328 524h1v1h-1zM329 525h1v1h-1zM330 525h1v1h-1zM331 526h1v1h-1zM332 526h1v1h-1zM333 526h1v1h-1zM334 525h1v1h-1zM335 525h1v1h-1zM336 525h1v1h-1zM337 525h1v1h-1zM338 524h1v1h-1zM339 524h1v1h-1zM340 524h1v1h-1zM341 524h1v1h-1zM342 523h1v1h-1zM343 523h1v1h-1zM344 523h1v1h-1zM345 523h1v1h-1zM346 522h1v1h-1zM347 522h1v1h-1zM348 522h1v1h-1zM349 522h1v1h-1zM350 522h1v1h-1zM351 522h1v1h-1zM352 521h1v1h-1zM353 521h1v1h-1zM354 521h1v1h-1zM355 521h1v1h-1zM356 521h1v1h-1zM357 521h1v1h-1zM358 521h1v1h-1zM359 521h1v1h-1zM360 520h1v1h-1zM361 520h1v1h-1zM362 520h1v1h-1zM363 520h1v1h-1zM364 520h1v1h-1zM365 520h1v1h-1zM366 520h1v1h-1zM367 520h1v1h-1zM368 520h1v1h-1zM369 520h1v1h-1zM370 520h1v1h-1zM371 520h1v1h-1zM372 520h1v1h-1zM373 520h1v1h-1zM374 520h1v1h-1zM375 520h1v1h-1zM376 520h1v1h-1zM377 520h1v1h-1zM378 520h1v1h-1zM379 520h1v1h-1zM380 520h1v1h-1zM381 520h1v1h-1zM382 520h1v1h-1zM383 520h1v1h-1zM384 520h1v1h-1zM385 520h1v1h-1zM386 520h1v1h-1zM387 520h1v1h-1zM388 520h1v1h-1zM389 520h1v1h-1zM390 520h1v1h-1zM391 520h1v1h-1zM392 519h1v1h-1zM393 519h1v1h-1zM394 519h1v1h-1zM395 519h1v1h-1zM396 519h1v1h-1zM397 519h1v1h-1zM398 519h1v1h-1zM399 519h1v1h-1zM400 519h1v1h-1zM401 519h1v1h-1zM402 519h1v1h-1zM403 519h1v1h-1zM404 519h1v1h-1zM405 518h1v1h-1zM406 518h1v1h-1zM407 517h1v1h-1zM408 517h1v1h-1zM409 516h1v1h-1zM410 516h1v1h-1zM411 515h1v1h-1zM412 515h1v1h-1zM413 515h1v1h-1zM414 515h1v1h-1zM415 515h1v1h-1zM416 514h1v1h-1zM417 514h1v1h-1zM418 514h1v1h-1zM419 514h1v1h-1zM420 514h1v1h-1zM421 514h1v1h-1zM422 513h1v1h-1zM423 513h1v1h-1zM424 513h1v1h-1zM425 513h1v1h-1zM426 512h1v1h-1zM427 512h1v1h-1zM428 512h1v1h-1zM429 512h1v1h-1zM430 513h1v1h-1zM431 513h1v1h-1zM432 514h1v1h-1zM433 514h1v1h-1zM434 514h1v1h-1zM435 515h1v1h-1zM436 515h1v1h-1zM437 516h1v1h-1zM438 517h1v2h-1zM439 519h1v1h-1zM440 520h1v1h-1zM441 521h1v1h-1zM442 522h1v2h-1zM443 524h1v1h-1zM444 525h1v1h-1zM445 526h1v1h-1zM446 527h1v1h-1zM447 528h1v1h-1zM448 529h1v1h-1zM449 530h1v1h-1zM450 531h1v1h-1zM451 532h1v1h-1zM452 533h1v1h-1zM453 533h1v1h-1zM454 533h1v1h-1zM455 533h1v1h-1zM456 534h1v1h-1zM457 534h1v1h-1zM458 534h1v1h-1zM459 534h1v1h-1zM460 534h1v1h-1zM461 534h1v1h-1zM462 534h1v1h-1zM463 534h1v1h-1zM464 534h1v1h-1zM465 534h1v1h-1zM466 534h1v1h-1zM467 534h1v1h-1zM468 534h1v1h-1zM469 533h1v1h-1zM470 533h1v1h-1zM471 532h1v1h-1zM472 531h1v1h-1zM473 531h1v1h-1zM474 530h1v1h-1zM475 530h1v1h-1zM476 529h1v1h-1zM477 530h1v1h-1zM478 530h1v1h-1zM479 531h1v1h-1zM480 531h1v1h-1zM481 532h1v1h-1zM482 532h1v1h-1zM483 533h1v1h-1zM484 533h1v1h-1zM485 533h1v1h-1zM486 532h1v1h-1zM487 532h1v1h-1zM488 531h1v1h-1zM489 531h1v1h-1zM490 531h1v1h-1zM491 530h1v1h-1zM492 530h1v1h-1zM493 531h1v1h-1zM494 531h1v1h-1zM495 532h1v1h-1zM496 533h1v1h-1zM497 533h1v1h-1zM498 534h1v1h-1zM499 534h1v1h-1zM500 535h1v1h-1zM501 536h1v1h-1zM502 536h1v1h-1zM503 537h1v1h-1zM504 538h1v1h-1zM505 538h1v1h-1zM506 539h1v1h-1zM507 539h1v1h-1zM508 540h1v1h-1zM509 540h1v1h-1zM510 540h1v1h-1zM511 540h1v1h-1zM512 540h1v1h-1zM513 540h1v1h-1zM514 540h1v1h-1zM515 540h1v1h-1zM516 540h1v1h-1zM517 540h1v1h-1zM518 540h1v1h-1zM519 540h1v1h-1zM520 541h1v1h-1zM521 541h1v1h-1zM522 541h1v1h-1zM523 541h1v1h-1zM524 541h1v1h-1zM525 541h1v1h-1zM526 542h1v1h-1zM527 542h1v1h-1zM528 542h1v1h-1zM529 542h1v1h-1zM530 543h1v1h-1zM531 543h1v1h-1zM532 543h1v1h-1zM533 541h1v2h-1zM534 539h1v2h-1zM535 537h1v2h-1zM536 535h1v2h-1zM537 533h1v2h-1zM538 531h1v2h-1zM539 529h1v2h-1zM540 528h1v1h-1zM541 528h1v1h-1zM542 528h1v1h-1zM543 528h1v1h-1zM544 527h1v1h-1zM545 527h1v1h-1zM546 527h1v1h-1zM547 527h1v1h-1zM548 527h1v1h-1zM549 527h1v1h-1zM550 527h1v1h-1zM551 527h1v1h-1zM552 527h1v1h-1zM553 527h1v1h-1zM554 527h1v1h-1zM555 527h1v1h-1zM556 527h1v1h-1zM557 527h1v1h-1zM558 528h1v1h-1zM559 528h1v1h-1zM560 528h1v1h-1zM561 528h1v1h-1zM562 529h1v1h-1zM563 529h1v1h-1zM564 529h1v1h-1zM565 529h1v1h-1zM566 530h1v1h-1zM567 530h1v1h-1zM568 531h1v1h-1zM569 531h1v1h-1zM570 531h1v1h-1zM571 532h1v1h-1zM572 532h1v1h-1zM573 532h1v1h-1zM574 532h1v1h-1zM575 532h1v1h-1zM576 531h1v1h-1zM577 531h1v1h-1zM578 531h1v1h-1zM579 531h1v1h-1zM580 531h1v1h-1zM581 530h1v1h-1zM582 530h1v1h-1zM583 529h1v1h-1zM584 528h1v1h-1zM585 528h1v1h-1zM586 527h1v1h-1zM587 527h1v1h-1zM588 526h1v1h-1zM589 525h1v1h-1zM590 525h1v1h-1zM591 524h1v1h-1zM592 524h1v1h-1zM593 523h1v1h-1zM594 523h1v1h-1zM595 522h1v1h-1zM596 522h1v1h-1zM597 522h1v1h-1zM598 522h1v1h-1zM599 522h1v1h-1zM600 522h1v1h-1zM601 522h1v1h-1zM602 522h1v1h-1zM603 522h1v1h-1zM604 522h1v1h-1zM605 522h1v1h-1zM606 522h1v1h-1zM607 522h1v1h-1zM608 522h1v1h-1zM609 522h1v1h-1zM610 522h1v1h-1zM611 522h1v1h-1zM612 522h1v1h-1zM613 522h1v1h-1zM614 523h1v1h-1zM615 523h1v1h-1zM616 523h1v1h-1zM617 523h1v1h-1zM618 524h1v1h-1zM619 524h1v1h-1zM620 524h1v1h-1zM621 524h1v1h-1zM622 525h1v1h-1zM623 525h1v1h-1zM624 525h1v1h-1zM625 525h1v1h-1zM626 526h1v1h-1zM627 526h1v1h-1zM628 526h1v1h-1zM629 526h1v1h-1zM630 526h1v1h-1zM631 526h1v1h-1zM632 527h1v1h-1zM633 527h1v1h-1zM634 527h1v1h-1zM635 527h1v1h-1zM636 527h1v1h-1zM637 527h1v1h-1zM638 527h1v1h-1zM639 527h1v1h-1zM640 528h1v1h-1zM641 528h1v1h-1zM642 528h1v1h-1zM643 528h1v1h-1zM644 528h1v1h-1zM645 528h1v1h-1zM646 529h1v1h-1zM647 529h1v1h-1zM648 529h1v1h-1zM649 529h1v1h-1zM650 530h1v1h-1zM651 530h1v1h-1zM652 530h1v1h-1zM653 530h1v1h-1zM654 529h1v1h-1zM655 529h1v1h-1zM656 529h1v1h-1zM657 529h1v1h-1zM658 528h1v1h-1zM659 528h1v1h-1zM660 528h1v1h-1zM661 528h1v1h-1zM662 528h1v1h-1zM663 528h1v1h-1zM664 527h1v1h-1zM665 527h1v1h-1zM666 527h1v1h-1zM667 527h1v1h-1zM668 527h1v1h-1zM669 527h1v1h-1zM670 527h1v1h-1zM671 527h1v1h-1zM672 528h1v1h-1zM673 528h1v1h-1zM674 528h1v1h-1zM675 528h1v1h-1zM676 528h1v1h-1zM677 529h1v1h-1zM678 529h1v1h-1zM679 530h1v1h-1zM680 530h1v1h-1zM681 531h1v1h-1zM682 531h1v1h-1zM683 532h1v1h-1zM684 532h1v1h-1zM685 531h1v1h-1zM686 531h1v1h-1zM687 530h1v1h-1zM688 529h1v1h-1zM689 529h1v1h-1zM690 528h1v1h-1zM691 528h1v1h-1zM692 527h1v1h-1zM693 527h1v1h-1zM694 526h1v1h-1zM695 526h1v1h-1zM696 526h1v1h-1zM697 526h1v1h-1zM698 525h1v1h-1zM699 525h1v1h-1zM700 525h1v1h-1zM701 525h1v1h-1zM702 526h1v1h-1zM703 526h1v1h-1zM704 527h1v1h-1zM705 527h1v1h-1zM706 527h1v1h-1zM707 528h1v1h-1zM708 528h1v1h-1zM709 528h1v1h-1zM710 528h1v1h-1zM711 528h1v1h-1zM712 528h1v1h-1zM713 528h1v1h-1zM714 528h1v1h-1zM715 528h1v1h-1zM716 528h1v1h-1zM717 528h1v1h-1zM718 527h1v1h-1zM719 527h1v1h-1zM720 527h1v1h-1zM721 527h1v1h-1zM722 526h1v1h-1zM723 526h1v1h-1zM724 526h1v1h-1zM725 526h1v1h-1zM726 525h1v1h-1zM727 525h1v1h-1zM728 525h1v1h-1zM729 525h1v1h-1zM730 524h1v1h-1zM731 524h1v1h-1zM732 524h1v1h-1zM733 524h1v1h-1zM734 523h1v1h-1zM735 523h1v1h-1zM736 522h1v1h-1zM737 522h1v1h-1zM738 522h1v1h-1zM739 521h1v1h-1zM740 521h1v1h-1zM741 521h1v1h-1zM742 520h1v1h-1zM743 520h1v1h-1zM744 520h1v1h-1zM745 520h1v1h-1zM746 519h1v1h-1zM747 519h1v1h-1zM748 519h1v1h-1zM749 519h1v1h-1zM750 520h1v1h-1zM751 520h1v1h-1zM752 521h1v1h-1zM753 521h1v1h-1zM754 521h1v1h-1zM755 522h1v1h-1zM756 522h1v1h-1zM757 522h1v1h-1zM758 522h1v1h-1zM759 522h1v1h-1zM760 522h1v1h-1zM761 522h1v1h-1zM762 522h1v1h-1zM763 522h1v1h-1zM764 522h1v1h-1zM765 522h1v1h-1zM766 523h1v1h-1zM767 523h1v1h-1zM768 524h1v1h-1zM769 524h1v1h-1zM770 524h1v1h-1zM771 525h1v1h-1zM772 525h1v1h-1zM773 525h1v1h-1zM774 525h1v1h-1zM775 525h1v1h-1zM776 525h1v1h-1zM777 525h1v1h-1zM778 525h1v1h-1zM779 525h1v1h-1zM780 525h1v1h-1zM781 525h1v1h-1zM782 525h1v1h-1zM783 525h1v1h-1zM784 525h1v1h-1zM785 525h1v1h-1zM786 525h1v1h-1zM787 525h1v1h-1zM788 525h1v1h-1zM789 525h1v1h-1zM790 526h1v1h-1zM791 526h1v1h-1zM792 527h1v1h-1zM793 527h1v1h-1zM794 527h1v1h-1zM795 528h1v1h-1zM796 528h1v1h-1zM797 528h1v1h-1zM798 528h1v1h-1zM799 528h1v1h-1zM800 528h1v1h-1zM801 528h1v1h-1zM802 528h1v1h-1zM803 528h1v1h-1zM804 528h1v1h-1zM805 528h1v1h-1zM806 529h1v1h-1zM807 529h1v1h-1zM808 529h1v1h-1zM809 529h1v1h-1zM810 530h1v1h-1zM811 530h1v1h-1zM812 530h1v1h-1zM813 530h1v1h-1zM814 531h1v1h-1zM815 531h1v1h-1zM816 531h1v1h-1zM817 531h1v1h-1zM818 532h1v1h-1zM819 532h1v1h-1zM820 532h1v1h-1zM821 531h1v1h-1zM822 530h1v1h-1zM823 529h1v1h-1zM824 528h1v1h-1zM825 528h1v1h-1zM826 527h1v1h-1zM827 526h1v1h-1zM828 525h1v1h-1zM829 526h1v2h-1zM830 528h1v1h-1zM831 529h1v1h-1zM832 530h1v2h-1zM833 532h1v1h-1zM834 533h1v1h-1zM835 534h1v2h-1zM836 536h1v1h-1zM837 536h1v1h-1zM838 535h1v1h-1zM839 535h1v1h-1zM840 534h1v1h-1zM841 534h1v1h-1zM842 534h1v1h-1zM843 533h1v1h-1zM844 533h1v1h-1zM845 533h1v1h-1zM846 533h1v1h-1zM847 533h1v1h-1zM848 534h1v1h-1zM849 534h1v1h-1zM850 534h1v1h-1zM851 534h1v1h-1zM852 534h1v1h-1zM853 535h1v1h-1zM854 535h1v1h-1zM855 536h1v1h-1zM856 536h1v1h-1zM857 537h1v1h-1zM858 537h1v1h-1zM859 538h1v1h-1zM860 538h1v1h-1zM861 538h1v1h-1zM862 538h1v1h-1zM863 538h1v1h-1zM864 538h1v1h-1zM865 538h1v1h-1zM866 538h1v1h-1zM867 538h1v1h-1zM868 538h1v1h-1zM869 538h1v1h-1zM870 539h1v1h-1zM871 539h1v1h-1zM872 539h1v1h-1zM873 539h1v1h-1zM874 540h1v1h-1zM875 540h1v1h-1zM876 540h1v1h-1zM877 540h1v1h-1zM878 540h1v1h-1zM879 540h1v1h-1zM880 540h1v1h-1zM881 540h1v1h-1zM882 540h1v1h-1zM883 540h1v1h-1zM884 540h1v1h-1zM885 538h1v2h-1zM886 537h1v1h-1zM887 536h1v1h-1zM888 534h1v2h-1zM889 533h1v1h-1zM890 532h1v1h-1zM891 530h1v2h-1zM892 529h1v1h-1zM893 529h1v1h-1zM894 529h1v1h-1zM895 529h1v1h-1zM896 530h1v1h-1zM897 530h1v1h-1zM898 530h1v1h-1zM899 530h1v1h-1zM900 530h1v1h-1zM901 530h1v1h-1zM902 530h1v1h-1zM903 530h1v1h-1zM904 531h1v1h-1zM905 531h1v1h-1zM906 531h1v1h-1zM907 531h1v1h-1zM908 531h1v1h-1zM909 531h1v1h-1zM910 531h1v1h-1zM911 531h1v1h-1zM912 532h1v1h-1zM913 532h1v1h-1zM914 532h1v1h-1zM915 532h1v1h-1zM916 532h1v1h-1z" fill="#1e90ff"/>
<text x="8" y="509" font-size="9.3" fill="#000">RSI(14) 52.3818</text>
<rect x="1167" y="498" width="1" height="1" fill="#000"/>
<rect x="1167" y="569" width="1" height="1" fill="#000"/>
<text x="1170" y="507" font-size="9.3" fill="#000">100</text>
<text x="1170" y="523" font-size="9.3" fill="#000">70</text>
<text x="1170" y="552" font-size="9.3" fill="#000">30</text>
<text x="1170" y="567" font-size="9.3" fill="#000">0</text>
<rect x="4" y="571" width="1" height="3" fill="#000"/>
<text x="4" y="583" font-size="9.2" fill="#000">18 May 2022</text>
<rect x="68" y="571" width="1" height="3" fill="#000"/>
<text x="68" y="583" font-size="9.2" fill="#000">20 May 00:00</text>
<rect x="132" y="571" width="1" height="3" fill="#000"/>
<text x="132" y="583" font-size="9.2" fill="#000">23 May 04:00</text>
<rect x="196" y="571" width="1" height="3" fill="#000"/>
<text x="196" y="583" font-size="9.2" fill="#000">24 May 12:00</text>
<rect x="260" y="571" width="1" height="3" fill="#000"/>
<text x="260" y="583" font-size="9.2" fill="#000">25 May 20:00</text>
<rect x="324" y="571" width="1" height="3" fill="#000"/>
<text x="324" y="583" font-size="9.2" fill="#000">27 May 04:00</text>
<rect x="388" y="571" width="1" height="3" fill="#000"/>
<text x="388" y="583" font-size="9.2" fill="#000">30 May 08:00</text>
<rect x="452" y="571" width="1" height="3" fill="#000"/>
<text x="452" y="583" font-size="9.2" fill="#000">31 May 16:00</text>
<rect x="516" y="571" width="1" height="3" fill="#000"/>
<text x="516" y="583" font-size="9.2" fill="#000">2 Jun 00:00</text>
<rect x="580" y="571" width="1" height="3" fill="#000"/>
<text x="580" y="583" font-size="9.2" fill="#000">3 Jun 08:00</text>
<rect x="644" y="571" width="1" height="3" fill="#000"/>
<text x="644" y="583" font-size="9.2" fill="#000">6 Jun 12:00</text>
<rect x="708" y="571" width="1" height="3" fill="#000"/>
<text x="708" y="583" font-size="9.2" fill="#000">7 Jun 20:00</text>
<rect x="772" y="571" width="1" height="3" fill="#000"/>
<text x="772" y="583" font-size="9.2" fill="#000">9 Jun 04:00</text>
<rect x="836" y="571" width="1" height="3" fill="#000"/>
<text x="836" y="583" font-size="9.2" fill="#000">10 Jun 12:00</text>
<rect x="900" y="571" width="1" height="3" fill="#000"/>
<text x="900" y="583" font-size="9.2" fill="#000">13 Jun 16:00</text>
<rect x="0" y="591" width="1209" height="1" fill="#e3e3e3"/>
<rect x="0" y="592" width="1209" height="1" fill="#ffffff"/>
<rect x="0" y="593" width="1209" height="1" fill="#000000"/>
<rect x="0" y="594" width="1209" height="1" fill="#ffffff"/>
<rect x="0" y="595" width="1209" height="17" fill="#f0f0f0"/>
<rect x="0" y="612" width="1209" height="3" fill="#f8f8f8"/>
<rect x="0" y="595" width="1" height="17" fill="#696969"/>
<rect x="1" y="595" width="1" height="17" fill="#ffffff"/>
<rect x="997" y="593" width="80" height="19" fill="#000"/>
<rect x="998" y="593" width="78" height="18" fill="#fff"/>
<rect x="996" y="594" width="1" height="17" fill="#fff"/>
<text x="16.5" y="608" font-size="12" fill="#6d6d6d">EURUSD-,Daily</text>
<rect x="113" y="597" width="1" height="14" fill="#6d6d6d"/>
<text x="123" y="608" font-size="12" fill="#6d6d6d">AUDUSD-,Daily</text>
<rect x="221" y="597" width="1" height="14" fill="#6d6d6d"/>
<text x="233" y="608" font-size="12" fill="#6d6d6d">USDCHF-,Daily</text>
<rect x="329" y="597" width="1" height="14" fill="#6d6d6d"/>
<text x="340" y="608" font-size="12" fill="#6d6d6d">USDCAD-,Daily</text>
<rect x="437" y="597" width="1" height="14" fill="#6d6d6d"/>
<text x="449.5" y="608" font-size="12" fill="#6d6d6d">USDCNH-,Daily</text>
<rect x="549" y="597" width="1" height="14" fill="#6d6d6d"/>
<text x="560" y="608" font-size="12" fill="#6d6d6d">XAUUSD-,H4</text>
<rect x="645" y="597" width="1" height="14" fill="#6d6d6d"/>
<text x="656.5" y="608" font-size="12" fill="#6d6d6d">UKOil-,Daily</text>
<rect x="737" y="597" width="1" height="14" fill="#6d6d6d"/>
<text x="749.5" y="608" font-size="12" fill="#6d6d6d">USOil-,Daily</text>
<rect x="829" y="597" width="1" height="14" fill="#6d6d6d"/>
<text x="839.4" y="608" font-size="12" fill="#6d6d6d">HK50-,H1</text>
<rect x="905" y="597" width="1" height="14" fill="#6d6d6d"/>
<text x="915.3" y="608" font-size="12" fill="#6d6d6d">EURCHF-,H1</text>
<text x="1088.4" y="608" font-size="12" fill="#6d6d6d">UKOil-,H4</text>
<rect x="1157" y="597" width="1" height="14" fill="#6d6d6d"/>
<text x="1009.4" y="608" font-size="12" fill="#000">USOil-,H4</text>
<polygon points="1181,602.5 1185.5,599 1185.5,606" fill="#000"/>
<polygon points="1205,602.5 1201,599 1201,606" fill="#a0a0a0"/>
</svg>
</body></html>
